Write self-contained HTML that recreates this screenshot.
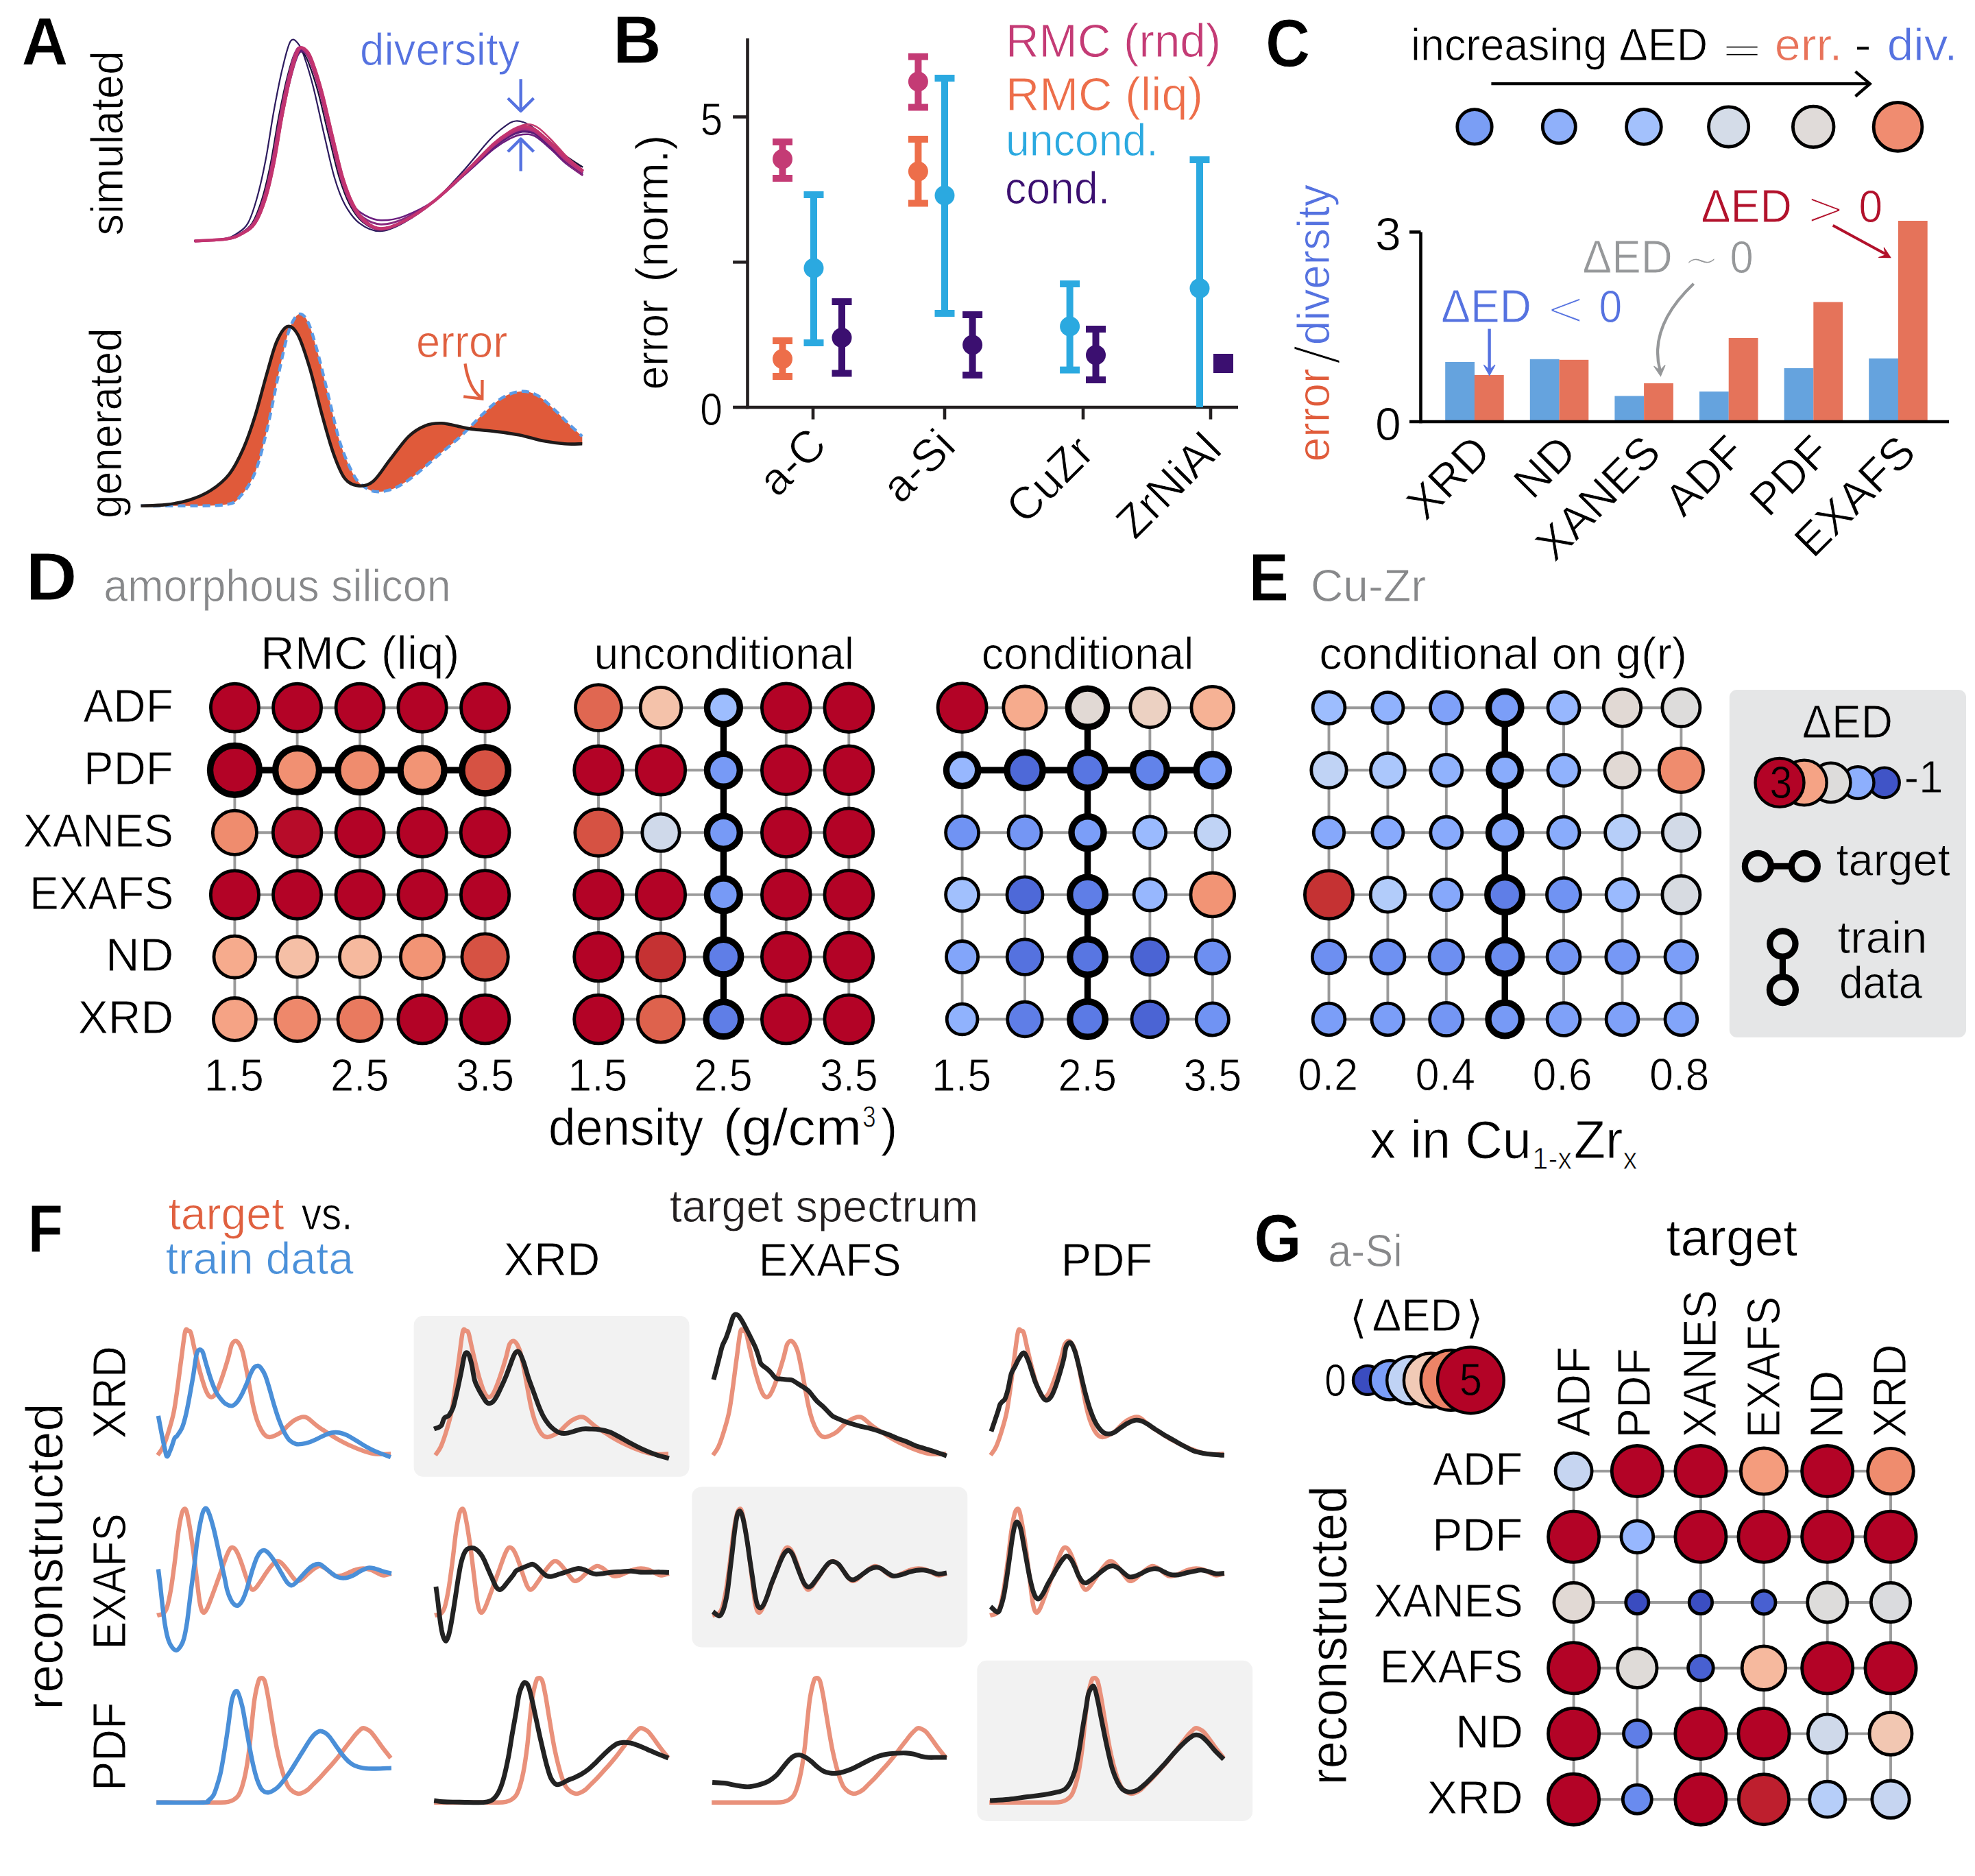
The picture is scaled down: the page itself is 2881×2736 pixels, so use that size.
<!DOCTYPE html>
<html><head><meta charset="utf-8"><title>figure</title>
<style>html,body{margin:0;padding:0;background:#fff;} svg{display:block;} text{stroke:#fff;stroke-width:0.9px;stroke-linejoin:round;} text.onbox{stroke:#e5e6e7;} text.onred{stroke:#b30326;}</style>
</head><body>
<svg width="2881" height="2736" viewBox="0 0 2881 2736" font-family="'Liberation Sans', 'DejaVu Sans', sans-serif">
<rect width="2881" height="2736" fill="#fff"/>
<text x="31.2" y="94.3" font-size="98" font-weight="bold" textLength="68.3" lengthAdjust="spacingAndGlyphs" >A</text>
<text transform="translate(178.5,343.5) rotate(-90)" font-size="66" textLength="269.6" lengthAdjust="spacingAndGlyphs" >simulated</text>
<text transform="translate(177.3,756.1) rotate(-90)" font-size="66" textLength="277.6" lengthAdjust="spacingAndGlyphs" >generated</text>
<path d="M283.6,351.4 C290.7,350.9 315.8,350.2 326.0,348.4 C336.3,346.6 339.2,344.6 345.1,340.8 C351.0,337.0 356.5,334.6 361.6,325.6 C366.6,316.6 371.1,302.2 375.4,286.7 C379.7,271.2 383.6,253.8 387.6,232.8 C391.7,211.7 395.6,182.5 399.7,160.5 C403.8,138.4 407.8,117.1 411.9,100.3 C415.9,83.6 419.9,65.7 424.0,59.9 C428.1,54.1 432.6,60.9 436.2,65.4 C439.8,70.0 441.8,76.4 445.3,87.0 C448.9,97.5 452.9,110.8 457.5,128.9 C462.1,147.0 467.6,174.1 472.7,195.7 C477.8,217.4 482.8,241.6 487.8,258.7 C492.9,275.8 496.9,287.1 503.0,298.2 C509.1,309.3 515.5,318.8 524.1,325.3 C532.7,331.8 543.7,337.3 554.5,337.2 C565.3,337.1 575.6,332.3 589.0,324.8 C602.4,317.3 619.9,305.1 634.6,292.2 C649.3,279.3 664.3,261.9 677.4,247.4 C690.5,232.9 703.6,215.4 713.3,205.0 C722.9,194.6 728.8,189.8 735.4,185.1 C741.9,180.3 746.3,176.9 752.4,176.5 C758.5,176.0 764.5,177.8 772.3,182.4 C780.0,186.9 790.5,196.5 798.8,203.6 C807.1,210.7 813.7,218.3 822.0,224.9 C830.3,231.5 844.0,240.1 848.4,243.1" stroke="#2d1b5e" stroke-width="2.2" fill="none" stroke-linejoin="round" />
<path d="M283.7,351.4 C291.3,350.9 318.3,350.2 329.4,348.4 C340.4,346.6 343.5,344.6 349.9,340.8 C356.3,337.0 362.3,334.1 367.7,325.6 C373.1,317.1 377.9,304.2 382.4,289.8 C386.9,275.3 390.6,259.0 394.6,239.1 C398.7,219.1 402.6,191.0 406.7,170.0 C410.8,149.0 414.8,128.8 418.9,113.1 C422.9,97.4 426.9,81.7 431.0,75.9 C435.1,70.1 439.6,74.6 443.2,78.2 C446.8,81.8 448.8,87.7 452.3,97.3 C455.9,106.9 459.9,119.1 464.5,136.0 C469.1,152.9 474.6,178.3 479.7,198.8 C484.8,219.2 489.8,242.1 494.8,258.7 C499.9,275.3 504.3,287.3 510.0,298.2 C515.7,309.1 521.6,317.7 529.1,323.9 C536.7,330.1 545.3,335.2 555.3,335.2 C565.2,335.1 575.8,330.8 589.0,323.6 C602.2,316.5 619.4,304.5 634.6,292.2 C649.8,279.9 665.9,263.5 680.1,249.9 C694.3,236.3 709.0,220.3 719.6,210.7 C730.2,201.2 736.8,197.0 743.9,192.8 C751.0,188.5 756.1,185.8 762.2,185.3 C768.3,184.8 773.3,185.8 780.4,189.7 C787.5,193.6 797.1,202.2 804.7,208.6 C812.3,214.9 818.4,222.0 826.0,227.9 C833.6,233.7 846.2,241.1 850.2,243.8" stroke="#1a1236" stroke-width="2.2" fill="none" stroke-linejoin="round" />
<path d="M283.7,351.4 C291.7,350.9 320.1,350.2 331.8,348.4 C343.4,346.6 346.7,344.6 353.4,340.8 C360.1,337.0 366.4,334.0 372.0,325.6 C377.7,317.2 382.8,304.4 387.4,290.1 C392.0,275.8 395.6,259.7 399.6,239.9 C403.7,220.0 407.6,192.0 411.7,171.2 C415.8,150.3 419.8,130.2 423.9,114.7 C427.9,99.1 431.9,83.7 436.0,77.9 C440.1,72.1 444.6,76.3 448.2,79.8 C451.8,83.2 453.8,89.1 457.3,98.6 C460.9,108.1 464.9,120.1 469.5,136.8 C474.1,153.6 479.6,178.8 484.7,199.1 C489.8,219.4 494.8,242.2 499.8,258.7 C504.9,275.2 509.5,289.0 515.0,298.2 C520.5,307.4 525.9,310.2 532.7,314.1 C539.5,317.9 546.4,321.0 555.8,321.3 C565.2,321.5 575.9,320.5 589.0,315.6 C602.1,310.7 619.4,302.6 634.6,292.1 C649.8,281.7 665.9,265.3 680.1,252.9 C694.3,240.5 709.0,226.1 719.6,217.7 C730.2,209.2 736.8,205.7 743.9,202.1 C751.0,198.5 756.1,196.6 762.2,196.1 C768.3,195.5 773.3,194.9 780.4,198.7 C787.5,202.5 797.1,211.9 804.7,218.6 C812.3,225.3 818.4,232.6 826.0,238.8 C833.6,245.0 846.2,252.9 850.2,255.8" stroke="#6a1d7e" stroke-width="2.6" fill="none" stroke-linejoin="round" />
<path d="M283.7,351.4 C291.6,350.9 319.4,350.2 330.8,348.4 C342.2,346.6 345.4,344.6 352.0,340.8 C358.6,337.0 364.7,334.1 370.3,325.6 C375.9,317.1 380.8,304.1 385.4,289.6 C389.9,275.1 393.6,258.7 397.6,238.7 C401.7,218.6 405.6,190.4 409.7,169.4 C413.8,148.3 417.8,128.0 421.9,112.3 C425.9,96.5 429.9,80.7 434.0,74.9 C438.1,69.1 442.6,73.8 446.2,77.4 C449.8,81.0 451.8,86.9 455.3,96.6 C458.9,106.3 462.9,118.5 467.5,135.5 C472.1,152.5 477.6,178.0 482.7,198.6 C487.8,219.1 492.8,242.1 497.8,258.7 C502.9,275.3 507.4,288.3 513.0,298.2 C518.6,308.1 524.2,313.4 531.3,318.3 C538.4,323.1 546.0,327.1 555.6,327.2 C565.2,327.4 575.8,324.9 589.0,319.1 C602.2,313.2 619.4,303.5 634.6,292.2 C649.8,280.9 665.9,264.3 680.1,251.2 C694.3,238.2 709.0,222.9 719.6,213.9 C730.2,204.9 736.8,201.0 743.9,197.0 C751.0,193.1 756.1,190.7 762.2,190.2 C768.3,189.6 773.3,189.6 780.4,193.8 C787.5,198.0 797.1,208.2 804.7,215.4 C812.3,222.6 818.4,230.4 826.0,237.1 C833.6,243.8 846.2,252.6 850.2,255.7" stroke="#8a2a7e" stroke-width="3.0" fill="none" stroke-linejoin="round" />
<path d="M283.7,351.4 C291.6,350.9 319.8,350.2 331.3,348.4 C342.8,346.6 346.0,344.6 352.7,340.8 C359.3,337.0 365.6,334.1 371.2,325.6 C376.8,317.1 381.8,304.3 386.4,289.9 C391.0,275.6 394.6,259.4 398.6,239.5 C402.7,219.6 406.6,191.5 410.7,170.6 C414.8,149.6 418.8,129.5 422.9,113.9 C426.9,98.3 430.9,82.7 435.0,76.9 C439.1,71.1 443.6,75.5 447.2,79.0 C450.8,82.5 452.8,88.4 456.3,97.9 C459.9,107.5 463.9,119.6 468.5,136.4 C473.1,153.2 478.6,178.6 483.7,198.9 C488.8,219.3 493.8,242.2 498.8,258.7 C503.9,275.2 508.5,287.6 514.0,298.2 C519.5,308.8 525.1,316.7 532.0,322.5 C539.0,328.3 546.2,333.2 555.7,333.2 C565.2,333.2 575.9,329.3 589.0,322.5 C602.1,315.7 619.4,304.0 634.6,292.2 C649.8,280.4 665.9,264.6 680.1,251.8 C694.3,238.9 709.0,224.0 719.6,215.2 C730.2,206.3 736.8,202.6 743.9,198.7 C751.0,194.9 756.1,192.7 762.2,192.1 C768.3,191.6 773.3,191.5 780.4,195.4 C787.5,199.3 797.1,208.8 804.7,215.6 C812.3,222.3 818.4,229.7 826.0,235.9 C833.6,242.2 846.2,250.2 850.2,253.0" stroke="#5b1c78" stroke-width="3.0" fill="none" stroke-linejoin="round" />
<path d="M283.7,351.4 C291.8,350.9 320.5,350.2 332.2,348.4 C344.0,346.6 347.3,344.6 354.1,340.8 C360.9,337.0 367.2,334.2 372.9,325.6 C378.6,317.0 383.8,303.7 388.4,289.0 C393.0,274.3 396.6,257.7 400.6,237.5 C404.7,217.3 408.6,188.9 412.7,167.6 C416.8,146.3 420.8,125.9 424.9,109.9 C428.9,94.0 432.9,77.7 437.0,71.9 C441.1,66.1 445.6,71.2 449.2,75.0 C452.8,78.8 454.8,84.8 458.3,94.7 C461.9,104.6 465.9,117.0 470.5,134.2 C475.1,151.4 480.6,177.2 485.7,198.0 C490.8,218.8 495.8,242.0 500.8,258.7 C505.9,275.4 510.6,287.6 516.0,298.2 C521.4,308.8 526.8,316.7 533.5,322.5 C540.1,328.3 546.7,333.2 555.9,333.2 C565.2,333.2 575.9,329.3 589.0,322.5 C602.1,315.7 619.1,304.5 634.6,292.2 C650.1,279.9 666.9,262.8 681.7,248.8 C696.5,234.8 712.2,218.1 723.4,208.2 C734.6,198.3 741.6,193.8 749.0,189.3 C756.5,184.9 762.0,181.8 768.1,181.4 C774.1,180.9 778.6,182.0 785.3,186.5 C792.0,190.9 801.1,201.0 808.3,208.3 C815.4,215.6 821.2,223.4 828.4,230.2 C835.6,237.0 847.5,245.9 851.3,249.1" stroke="#c43c6e" stroke-width="2.6" fill="none" stroke-linejoin="round" />
<path d="M283.7,351.4 C291.6,350.9 319.4,350.2 330.8,348.4 C342.2,346.6 345.4,344.6 352.0,340.8 C358.6,337.0 364.7,334.2 370.3,325.6 C375.9,317.0 380.8,303.7 385.4,289.0 C389.9,274.3 393.6,257.7 397.6,237.5 C401.7,217.3 405.6,188.9 409.7,167.6 C413.8,146.3 417.8,125.9 421.9,109.9 C425.9,94.0 429.9,77.7 434.0,71.9 C438.1,66.1 442.6,71.2 446.2,75.0 C449.8,78.8 451.8,84.8 455.3,94.7 C458.9,104.6 462.9,117.0 467.5,134.2 C472.1,151.4 477.6,177.2 482.7,198.0 C487.8,218.8 492.8,242.0 497.8,258.7 C502.9,275.4 507.4,287.4 513.0,298.2 C518.6,309.0 524.2,317.2 531.3,323.2 C538.4,329.2 546.0,334.2 555.6,334.2 C565.2,334.2 575.8,330.1 589.0,323.1 C602.2,316.1 619.4,304.3 634.6,292.2 C649.8,280.1 665.9,263.8 680.1,250.4 C694.3,237.1 709.0,221.3 719.6,212.0 C730.2,202.7 736.8,198.6 743.9,194.5 C751.0,190.3 756.1,187.8 762.2,187.2 C768.3,186.7 773.3,187.2 780.4,191.3 C787.5,195.5 797.1,205.2 804.7,212.2 C812.3,219.2 818.4,226.8 826.0,233.3 C833.6,239.7 846.2,248.2 850.2,251.1" stroke="#b5307a" stroke-width="4.5" fill="none" stroke-linejoin="round" />
<path d="M283.7,351.4 C291.7,350.9 320.1,350.2 331.8,348.4 C343.4,346.6 346.7,344.6 353.4,340.8 C360.1,337.0 366.4,334.2 372.0,325.6 C377.7,317.0 382.8,303.7 387.4,289.0 C392.0,274.3 395.6,257.7 399.6,237.5 C403.7,217.3 407.6,188.9 411.7,167.6 C415.8,146.3 419.8,125.9 423.9,109.9 C427.9,94.0 431.9,77.7 436.0,71.9 C440.1,66.1 444.6,71.2 448.2,75.0 C451.8,78.8 453.8,84.8 457.3,94.7 C460.9,104.6 464.9,117.0 469.5,134.2 C474.1,151.4 479.6,177.2 484.7,198.0 C489.8,218.8 494.8,242.0 499.8,258.7 C504.9,275.4 509.5,287.6 515.0,298.2 C520.5,308.8 525.9,316.7 532.7,322.5 C539.5,328.3 546.4,333.2 555.8,333.2 C565.2,333.2 575.9,329.3 589.0,322.5 C602.1,315.7 619.4,304.3 634.6,292.2 C649.8,280.1 665.9,263.3 680.1,249.6 C694.3,235.9 709.0,219.7 719.6,210.1 C730.2,200.5 736.8,196.2 743.9,191.9 C751.0,187.6 756.1,184.8 762.2,184.3 C768.3,183.8 773.3,184.7 780.4,188.9 C787.5,193.1 797.1,202.8 804.7,209.7 C812.3,216.7 818.4,224.3 826.0,230.7 C833.6,237.2 846.2,245.6 850.2,248.6" stroke="#c3346f" stroke-width="4.0" fill="none" stroke-linejoin="round" />
<text x="525.1" y="95.3" font-size="66" fill="#5572e0" textLength="233.3" lengthAdjust="spacingAndGlyphs" >diversity</text>
<path d="M759.7,115.3 L759.7,161" stroke="#5572e0" stroke-width="4.4" fill="none" stroke-linejoin="round" />
<path d="M740.9,143.3 L759.7,162 L778.5,143.3" stroke="#5572e0" stroke-width="4.4" fill="none" stroke-linejoin="round" />
<path d="M759.7,249.6 L759.7,203" stroke="#5572e0" stroke-width="4.4" fill="none" stroke-linejoin="round" />
<path d="M740.9,221.3 L759.7,202.5 L778.5,221.3" stroke="#5572e0" stroke-width="4.4" fill="none" stroke-linejoin="round" />
<path d="M205.5,737.8 C210.9,737.8 217.8,738.1 238.2,737.8 C258.6,737.5 308.8,738.7 327.7,736.1 C346.6,733.5 344.3,730.3 351.8,722.3 C359.3,714.3 366.2,704.0 372.5,687.9 C378.8,671.8 384.0,650.0 389.7,625.9 C395.4,601.8 401.7,566.8 406.9,543.3 C412.1,519.8 416.1,498.9 420.7,484.8 C425.3,470.7 429.9,461.8 434.5,458.9 C439.1,456.0 443.6,459.2 448.2,467.5 C452.8,475.8 456.8,490.5 462.0,508.9 C467.2,527.3 473.5,554.8 479.2,577.7 C484.9,600.7 490.1,627.1 496.4,646.6 C502.7,666.1 510.8,683.9 517.1,694.8 C523.4,705.7 528.6,708.3 534.3,712.0 C540.0,715.7 544.6,717.2 551.5,717.2 C558.4,717.2 567.0,715.7 575.6,712.0 C584.2,708.3 592.9,702.5 603.2,694.8 C613.5,687.0 626.1,675.2 637.6,665.5 C649.1,655.8 660.5,646.9 672.0,636.3 C683.5,625.7 696.1,611.3 706.4,601.8 C716.7,592.3 724.8,584.6 734.0,579.4 C743.2,574.2 752.9,571.1 761.5,570.8 C770.1,570.5 777.6,573.1 785.6,577.7 C793.6,582.3 802.2,591.5 809.7,598.4 C817.2,605.3 823.8,612.7 830.4,619.0 C837.0,625.3 846.1,633.4 849.3,636.3 L849.3,647.3 L849.3,647.3 C845.0,647.3 833.0,648.0 823.5,647.3 C814.0,646.6 803.4,645.2 792.5,643.1 C781.6,641.0 769.6,636.8 758.1,634.5 C746.6,632.2 735.2,630.8 723.7,629.4 C712.2,628.0 697.8,627.0 689.2,625.9 C680.6,624.8 679.5,623.9 672.0,622.5 C664.5,621.1 653.1,617.6 644.5,617.3 C635.9,617.0 628.4,617.6 620.4,620.8 C612.4,624.0 604.9,628.0 596.3,636.3 C587.7,644.6 577.3,659.8 568.7,670.7 C560.1,681.6 552.1,695.4 544.6,701.7 C537.1,708.0 530.9,709.2 524.0,708.6 C517.1,708.0 509.6,706.2 503.3,698.2 C497.0,690.2 491.8,676.5 486.1,660.4 C480.4,644.3 474.6,622.5 468.9,601.8 C463.2,581.1 457.4,555.3 451.7,536.4 C446.0,517.5 439.9,498.2 434.5,488.2 C429.1,478.2 424.2,474.5 419.0,476.2 C413.8,477.9 408.4,487.3 403.5,498.5 C398.6,509.7 394.9,525.5 389.7,543.3 C384.5,561.1 378.2,586.9 372.5,605.3 C366.8,623.7 361.6,639.2 355.3,653.5 C349.0,667.8 342.6,681.0 334.6,691.3 C326.6,701.6 316.9,709.1 307.1,715.4 C297.4,721.7 287.0,725.8 276.1,729.2 C265.2,732.7 253.4,734.7 241.6,736.1 C229.8,737.5 211.5,737.5 205.5,737.8 Z" fill="#e05a3a" stroke="none"/>
<path d="M205.5,737.8 C210.9,737.8 217.8,738.1 238.2,737.8 C258.6,737.5 308.8,738.7 327.7,736.1 C346.6,733.5 344.3,730.3 351.8,722.3 C359.3,714.3 366.2,704.0 372.5,687.9 C378.8,671.8 384.0,650.0 389.7,625.9 C395.4,601.8 401.7,566.8 406.9,543.3 C412.1,519.8 416.1,498.9 420.7,484.8 C425.3,470.7 429.9,461.8 434.5,458.9 C439.1,456.0 443.6,459.2 448.2,467.5 C452.8,475.8 456.8,490.5 462.0,508.9 C467.2,527.3 473.5,554.8 479.2,577.7 C484.9,600.7 490.1,627.1 496.4,646.6 C502.7,666.1 510.8,683.9 517.1,694.8 C523.4,705.7 528.6,708.3 534.3,712.0 C540.0,715.7 544.6,717.2 551.5,717.2 C558.4,717.2 567.0,715.7 575.6,712.0 C584.2,708.3 592.9,702.5 603.2,694.8 C613.5,687.0 626.1,675.2 637.6,665.5 C649.1,655.8 660.5,646.9 672.0,636.3 C683.5,625.7 696.1,611.3 706.4,601.8 C716.7,592.3 724.8,584.6 734.0,579.4 C743.2,574.2 752.9,571.1 761.5,570.8 C770.1,570.5 777.6,573.1 785.6,577.7 C793.6,582.3 802.2,591.5 809.7,598.4 C817.2,605.3 823.8,612.7 830.4,619.0 C837.0,625.3 846.1,633.4 849.3,636.3" stroke="#5b9be6" stroke-width="4.4" fill="none" stroke-linejoin="round" stroke-dasharray="11,7"/>
<path d="M205.5,737.8 C211.5,737.5 229.8,737.5 241.6,736.1 C253.4,734.7 265.2,732.7 276.1,729.2 C287.0,725.8 297.4,721.7 307.1,715.4 C316.9,709.1 326.6,701.6 334.6,691.3 C342.6,681.0 349.0,667.8 355.3,653.5 C361.6,639.2 366.8,623.7 372.5,605.3 C378.2,586.9 384.5,561.1 389.7,543.3 C394.9,525.5 398.6,509.7 403.5,498.5 C408.4,487.3 413.8,477.9 419.0,476.2 C424.2,474.5 429.1,478.2 434.5,488.2 C439.9,498.2 446.0,517.5 451.7,536.4 C457.4,555.3 463.2,581.1 468.9,601.8 C474.6,622.5 480.4,644.3 486.1,660.4 C491.8,676.5 497.0,690.2 503.3,698.2 C509.6,706.2 517.1,708.0 524.0,708.6 C530.9,709.2 537.1,708.0 544.6,701.7 C552.1,695.4 560.1,681.6 568.7,670.7 C577.3,659.8 587.7,644.6 596.3,636.3 C604.9,628.0 612.4,624.0 620.4,620.8 C628.4,617.6 635.9,617.0 644.5,617.3 C653.1,617.6 664.5,621.1 672.0,622.5 C679.5,623.9 680.6,624.8 689.2,625.9 C697.8,627.0 712.2,628.0 723.7,629.4 C735.2,630.8 746.6,632.2 758.1,634.5 C769.6,636.8 781.6,641.0 792.5,643.1 C803.4,645.2 814.0,646.6 823.5,647.3 C833.0,648.0 845.0,647.3 849.3,647.3" stroke="#1f1a1a" stroke-width="4.6" fill="none" stroke-linejoin="round" />
<text x="606.9" y="520.9" font-size="66" fill="#e0603f" textLength="133.4" lengthAdjust="spacingAndGlyphs" >error</text>
<path d="M678.5,530.4 Q683.5,566 702.5,580.5" stroke="#e0603f" stroke-width="4.3" fill="none" stroke-linejoin="round" />
<path d="M676.2,578.4 L703.3,581.6 L703.5,554.1" stroke="#e0603f" stroke-width="4.3" fill="none" stroke-linejoin="miter" />
<text x="894.0" y="92.0" font-size="98" font-weight="bold" textLength="70.8" lengthAdjust="spacingAndGlyphs" >B</text>
<line x1="1090.5" y1="56.0" x2="1090.5" y2="596.3" stroke="#231f20" stroke-width="4.6" stroke-linecap="butt" />
<line x1="1088.2" y1="594.0" x2="1806.0" y2="594.0" stroke="#231f20" stroke-width="4.6" stroke-linecap="butt" />
<line x1="1069.1" y1="170.5" x2="1090.5" y2="170.5" stroke="#231f20" stroke-width="4.6" stroke-linecap="butt" />
<line x1="1069.1" y1="382.3" x2="1090.5" y2="382.3" stroke="#231f20" stroke-width="4.6" stroke-linecap="butt" />
<line x1="1069.1" y1="594.0" x2="1090.5" y2="594.0" stroke="#231f20" stroke-width="4.6" stroke-linecap="butt" />
<line x1="1186.0" y1="594.0" x2="1186.0" y2="611.6" stroke="#231f20" stroke-width="4.6" stroke-linecap="butt" />
<line x1="1378.0" y1="594.0" x2="1378.0" y2="611.6" stroke="#231f20" stroke-width="4.6" stroke-linecap="butt" />
<line x1="1580.0" y1="594.0" x2="1580.0" y2="611.6" stroke="#231f20" stroke-width="4.6" stroke-linecap="butt" />
<line x1="1766.0" y1="594.0" x2="1766.0" y2="611.6" stroke="#231f20" stroke-width="4.6" stroke-linecap="butt" />
<text x="1021.7" y="196.5" font-size="66" textLength="32.3" lengthAdjust="spacingAndGlyphs" >5</text>
<text x="1021.2" y="620.0" font-size="66" textLength="32.6" lengthAdjust="spacingAndGlyphs" >0</text>
<text transform="translate(974.3,568.5) rotate(-90)" font-size="66" textLength="131.5" lengthAdjust="spacingAndGlyphs" >error</text>
<text transform="translate(974.3,411.4) rotate(-90)" font-size="66" textLength="214.8" lengthAdjust="spacingAndGlyphs" >(norm.)</text>
<line x1="1141.5" y1="207.0" x2="1141.5" y2="260.0" stroke="#c43b75" stroke-width="10" stroke-linecap="butt" />
<line x1="1127.0" y1="207.0" x2="1156.0" y2="207.0" stroke="#c43b75" stroke-width="10" stroke-linecap="butt" />
<line x1="1127.0" y1="260.0" x2="1156.0" y2="260.0" stroke="#c43b75" stroke-width="10" stroke-linecap="butt" />
<circle cx="1141.5" cy="232.0" r="14.5" fill="#c43b75"/>
<line x1="1141.5" y1="497.0" x2="1141.5" y2="549.0" stroke="#ed6e4a" stroke-width="10" stroke-linecap="butt" />
<line x1="1127.0" y1="497.0" x2="1156.0" y2="497.0" stroke="#ed6e4a" stroke-width="10" stroke-linecap="butt" />
<line x1="1127.0" y1="549.0" x2="1156.0" y2="549.0" stroke="#ed6e4a" stroke-width="10" stroke-linecap="butt" />
<circle cx="1141.5" cy="523.6" r="14.5" fill="#ed6e4a"/>
<line x1="1187.0" y1="284.0" x2="1187.0" y2="500.0" stroke="#2ba9e0" stroke-width="10" stroke-linecap="butt" />
<line x1="1172.5" y1="284.0" x2="1201.5" y2="284.0" stroke="#2ba9e0" stroke-width="10" stroke-linecap="butt" />
<line x1="1172.5" y1="500.0" x2="1201.5" y2="500.0" stroke="#2ba9e0" stroke-width="10" stroke-linecap="butt" />
<circle cx="1187.0" cy="391.0" r="14.5" fill="#2ba9e0"/>
<line x1="1228.0" y1="440.0" x2="1228.0" y2="544.5" stroke="#3b0f70" stroke-width="10" stroke-linecap="butt" />
<line x1="1213.5" y1="440.0" x2="1242.5" y2="440.0" stroke="#3b0f70" stroke-width="10" stroke-linecap="butt" />
<line x1="1213.5" y1="544.5" x2="1242.5" y2="544.5" stroke="#3b0f70" stroke-width="10" stroke-linecap="butt" />
<circle cx="1228.0" cy="492.5" r="14.5" fill="#3b0f70"/>
<line x1="1339.4" y1="82.6" x2="1339.4" y2="156.5" stroke="#c43b75" stroke-width="10" stroke-linecap="butt" />
<line x1="1324.9" y1="82.6" x2="1353.9" y2="82.6" stroke="#c43b75" stroke-width="10" stroke-linecap="butt" />
<line x1="1324.9" y1="156.5" x2="1353.9" y2="156.5" stroke="#c43b75" stroke-width="10" stroke-linecap="butt" />
<circle cx="1339.4" cy="119.0" r="14.5" fill="#c43b75"/>
<line x1="1339.4" y1="203.0" x2="1339.4" y2="296.5" stroke="#ed6e4a" stroke-width="10" stroke-linecap="butt" />
<line x1="1324.9" y1="203.0" x2="1353.9" y2="203.0" stroke="#ed6e4a" stroke-width="10" stroke-linecap="butt" />
<line x1="1324.9" y1="296.5" x2="1353.9" y2="296.5" stroke="#ed6e4a" stroke-width="10" stroke-linecap="butt" />
<circle cx="1339.4" cy="250.0" r="14.5" fill="#ed6e4a"/>
<line x1="1378.0" y1="114.0" x2="1378.0" y2="457.0" stroke="#2ba9e0" stroke-width="10" stroke-linecap="butt" />
<line x1="1363.5" y1="114.0" x2="1392.5" y2="114.0" stroke="#2ba9e0" stroke-width="10" stroke-linecap="butt" />
<line x1="1363.5" y1="457.0" x2="1392.5" y2="457.0" stroke="#2ba9e0" stroke-width="10" stroke-linecap="butt" />
<circle cx="1378.0" cy="285.0" r="14.5" fill="#2ba9e0"/>
<line x1="1418.6" y1="459.0" x2="1418.6" y2="547.0" stroke="#3b0f70" stroke-width="10" stroke-linecap="butt" />
<line x1="1404.1" y1="459.0" x2="1433.1" y2="459.0" stroke="#3b0f70" stroke-width="10" stroke-linecap="butt" />
<line x1="1404.1" y1="547.0" x2="1433.1" y2="547.0" stroke="#3b0f70" stroke-width="10" stroke-linecap="butt" />
<circle cx="1418.6" cy="503.0" r="14.5" fill="#3b0f70"/>
<line x1="1560.6" y1="414.0" x2="1560.6" y2="539.6" stroke="#2ba9e0" stroke-width="10" stroke-linecap="butt" />
<line x1="1546.1" y1="414.0" x2="1575.1" y2="414.0" stroke="#2ba9e0" stroke-width="10" stroke-linecap="butt" />
<line x1="1546.1" y1="539.6" x2="1575.1" y2="539.6" stroke="#2ba9e0" stroke-width="10" stroke-linecap="butt" />
<circle cx="1560.6" cy="476.0" r="14.5" fill="#2ba9e0"/>
<line x1="1598.5" y1="480.0" x2="1598.5" y2="554.0" stroke="#3b0f70" stroke-width="10" stroke-linecap="butt" />
<line x1="1584.0" y1="480.0" x2="1613.0" y2="480.0" stroke="#3b0f70" stroke-width="10" stroke-linecap="butt" />
<line x1="1584.0" y1="554.0" x2="1613.0" y2="554.0" stroke="#3b0f70" stroke-width="10" stroke-linecap="butt" />
<circle cx="1598.5" cy="517.7" r="14.5" fill="#3b0f70"/>
<line x1="1750.0" y1="233.0" x2="1750.0" y2="594.0" stroke="#2ba9e0" stroke-width="10" stroke-linecap="butt" />
<line x1="1735.5" y1="233.0" x2="1764.5" y2="233.0" stroke="#2ba9e0" stroke-width="10" stroke-linecap="butt" />
<circle cx="1750" cy="420.5" r="14.5" fill="#2ba9e0"/>
<rect x="1770.0" y="516.0" width="29.0" height="28.0" fill="#3b0f70" rx="0" />
<text x="1467.0" y="83.4" font-size="68" fill="#c43b75" textLength="314.2" lengthAdjust="spacingAndGlyphs" >RMC (rnd)</text>
<text x="1466.9" y="161.2" font-size="68" fill="#ed6e4a" textLength="288.2" lengthAdjust="spacingAndGlyphs" >RMC (liq)</text>
<text x="1467.1" y="227.1" font-size="66" fill="#2ba9e0" textLength="222.5" lengthAdjust="spacingAndGlyphs" >uncond.</text>
<text x="1466.0" y="296.9" font-size="66" fill="#3b0f70" textLength="153.1" lengthAdjust="spacingAndGlyphs" >cond.</text>
<text transform="translate(1209.0,652.0) rotate(-45)" font-size="66" text-anchor="end" >a-C</text>
<text transform="translate(1397.0,654.0) rotate(-45)" font-size="66" text-anchor="end" >a-Si</text>
<text transform="translate(1599.0,663.0) rotate(-45)" font-size="66" text-anchor="end" >CuZr</text>
<text transform="translate(1785.0,659.0) rotate(-45)" font-size="66" text-anchor="end" >ZrNiAl</text>
<text x="1845.9" y="97.0" font-size="98" font-weight="bold" textLength="65.2" lengthAdjust="spacingAndGlyphs" >C</text>
<text x="2058.0" y="88.1" font-size="66" textLength="433.0" lengthAdjust="spacingAndGlyphs" >increasing ΔED</text>
<text x="2510.2" y="96.0" font-size="70" font-weight="200" font-family="'DejaVu Sans', sans-serif" textLength="61.7" lengthAdjust="spacingAndGlyphs" >=</text>
<text x="2588.8" y="88.1" font-size="66" fill="#e8735a" textLength="98.7" lengthAdjust="spacingAndGlyphs" >err.</text>
<text x="2705.3" y="88.1" font-size="66" textLength="24.5" lengthAdjust="spacingAndGlyphs" >-</text>
<text x="2752.7" y="88.1" font-size="66" fill="#5572e0" textLength="102.9" lengthAdjust="spacingAndGlyphs" >div.</text>
<line x1="2175.4" y1="122.2" x2="2726.0" y2="122.2" stroke="#000" stroke-width="4.3" stroke-linecap="butt" />
<path d="M2706.5,104.3 L2727.8,122.2 L2706.5,140.5" stroke="#000" stroke-width="4.3" fill="none" stroke-linejoin="miter" />
<circle cx="2151.0" cy="184.9" r="25.2" fill="#7a9ef5" stroke="#000" stroke-width="4.8"/>
<circle cx="2274.3" cy="184.9" r="24.0" fill="#8fb0fa" stroke="#000" stroke-width="4.8"/>
<circle cx="2397.9" cy="184.9" r="25.4" fill="#a3c1fc" stroke="#000" stroke-width="4.8"/>
<circle cx="2521.6" cy="184.9" r="29.1" fill="#d4dce8" stroke="#000" stroke-width="4.8"/>
<circle cx="2645.2" cy="184.9" r="29.8" fill="#e0dbd9" stroke="#000" stroke-width="4.8"/>
<circle cx="2768.5" cy="184.9" r="35.4" fill="#f08c70" stroke="#000" stroke-width="4.8"/>
<rect x="2108.2" y="528.0" width="42.8" height="87.0" fill="#65a3de" rx="0" />
<rect x="2150.9" y="547.0" width="42.8" height="68.0" fill="#e5735a" rx="0" />
<rect x="2231.8" y="523.8" width="42.8" height="91.2" fill="#65a3de" rx="0" />
<rect x="2274.5" y="524.8" width="42.8" height="90.2" fill="#e5735a" rx="0" />
<rect x="2355.4" y="577.5" width="42.8" height="37.5" fill="#65a3de" rx="0" />
<rect x="2398.1" y="559.0" width="42.8" height="56.0" fill="#e5735a" rx="0" />
<rect x="2479.0" y="571.0" width="42.8" height="44.0" fill="#65a3de" rx="0" />
<rect x="2521.7" y="493.0" width="42.8" height="122.0" fill="#e5735a" rx="0" />
<rect x="2602.6" y="537.0" width="42.8" height="78.0" fill="#65a3de" rx="0" />
<rect x="2645.3" y="440.5" width="42.8" height="174.5" fill="#e5735a" rx="0" />
<rect x="2726.2" y="522.7" width="42.8" height="92.3" fill="#65a3de" rx="0" />
<rect x="2768.9" y="322.0" width="42.8" height="293.0" fill="#e5735a" rx="0" />
<line x1="2072.5" y1="338.4" x2="2072.5" y2="617.3" stroke="#000" stroke-width="4.6" stroke-linecap="butt" />
<line x1="2056.0" y1="615.0" x2="2843.0" y2="615.0" stroke="#000" stroke-width="4.6" stroke-linecap="butt" />
<line x1="2056.0" y1="338.4" x2="2072.5" y2="338.4" stroke="#000" stroke-width="4.6" stroke-linecap="butt" />
<text x="2025.0" y="365.0" font-size="68" text-anchor="middle" >3</text>
<text x="2025.0" y="642.0" font-size="68" text-anchor="middle" >0</text>
<text transform="translate(1939.3,673.4) rotate(-90)" font-size="66" fill="#e05b3a" textLength="135.7" lengthAdjust="spacingAndGlyphs" >error</text>
<text transform="translate(1947.0,531.0) rotate(-90)" font-size="80" font-weight="200" font-family="'DejaVu Sans', sans-serif" textLength="27.3" lengthAdjust="spacingAndGlyphs" >/</text>
<text transform="translate(1939.3,503.3) rotate(-90)" font-size="66" fill="#5572e0" textLength="234.1" lengthAdjust="spacingAndGlyphs" >diversity</text>
<text x="2102.3" y="469.5" font-size="68" fill="#5572e0" textLength="131.5" lengthAdjust="spacingAndGlyphs" >ΔED</text>
<text x="2256.0" y="474.0" font-size="70" fill="#5572e0" font-weight="200" font-family="'DejaVu Sans', sans-serif" textLength="55.5" lengthAdjust="spacingAndGlyphs" >&lt;</text>
<text x="2332.5" y="469.5" font-size="66" fill="#5572e0" textLength="33.7" lengthAdjust="spacingAndGlyphs" >0</text>
<path d="M2172.6,479.6 L2172.6,540" stroke="#5572e0" stroke-width="4.4" fill="none" stroke-linejoin="round" />
<path d="M2172.7,547.5 L2164.4,532.1 L2172.7,539.5 L2181.0,532.1 Z" fill="#5572e0" stroke="#5572e0" stroke-width="1.2" stroke-linejoin="miter"/>
<text x="2308.6" y="398.2" font-size="68" fill="#96989a" textLength="131.1" lengthAdjust="spacingAndGlyphs" >ΔED</text>
<text x="2456.6" y="401.0" font-size="66" fill="#96989a" font-weight="200" font-family="'DejaVu Sans', sans-serif" textLength="50.9" lengthAdjust="spacingAndGlyphs" >~</text>
<text x="2523.4" y="398.2" font-size="66" fill="#96989a" textLength="34.2" lengthAdjust="spacingAndGlyphs" >0</text>
<path d="M2470.6,413.7 Q2404.5,476.3 2421.5,540" stroke="#96989a" stroke-width="4.3" fill="none" stroke-linejoin="round" />
<path d="M2422.4,548.5 L2412.6,534.0 L2421.6,540.5 L2429.1,532.4 Z" fill="#96989a" stroke="#96989a" stroke-width="1.2" stroke-linejoin="miter"/>
<text x="2481.6" y="323.6" font-size="68" fill="#b2112b" textLength="132.2" lengthAdjust="spacingAndGlyphs" >ΔED</text>
<text x="2635.2" y="328.0" font-size="70" fill="#b2112b" font-weight="200" font-family="'DejaVu Sans', sans-serif" textLength="55.5" lengthAdjust="spacingAndGlyphs" >&gt;</text>
<text x="2711.6" y="323.6" font-size="66" fill="#b2112b" textLength="34.6" lengthAdjust="spacingAndGlyphs" >0</text>
<path d="M2673.7,328.8 L2750.5,370.5" stroke="#b2112b" stroke-width="3.9" fill="none" stroke-linejoin="round" />
<path d="M2757.8,375.6 L2740.3,375.5 L2750.8,371.8 L2748.2,361.0 Z" fill="#b2112b" stroke="#b2112b" stroke-width="1.2" stroke-linejoin="miter"/>
<text transform="translate(2178.0,663.0) rotate(-45)" font-size="66" text-anchor="end" >XRD</text>
<text transform="translate(2303.0,663.0) rotate(-45)" font-size="66" text-anchor="end" >ND</text>
<text transform="translate(2426.0,663.0) rotate(-45)" font-size="66" text-anchor="end" >XANES</text>
<text transform="translate(2549.0,663.0) rotate(-45)" font-size="66" text-anchor="end" >ADF</text>
<text transform="translate(2673.0,663.0) rotate(-45)" font-size="66" text-anchor="end" >PDF</text>
<text transform="translate(2798.0,663.0) rotate(-45)" font-size="66" text-anchor="end" >EXAFS</text>
<text x="37.5" y="874.6" font-size="98" font-weight="bold" textLength="74.9" lengthAdjust="spacingAndGlyphs" >D</text>
<text x="151.3" y="877.3" font-size="66" fill="#87888a" textLength="506.3" lengthAdjust="spacingAndGlyphs" >amorphous silicon</text>
<text x="121.6" y="1053.0" font-size="68" textLength="131.1" lengthAdjust="spacingAndGlyphs" >ADF</text>
<text x="122.1" y="1144.1" font-size="68" textLength="130.6" lengthAdjust="spacingAndGlyphs" >PDF</text>
<text x="33.8" y="1235.0" font-size="68" textLength="219.2" lengthAdjust="spacingAndGlyphs" >XANES</text>
<text x="42.9" y="1325.7" font-size="68" textLength="210.4" lengthAdjust="spacingAndGlyphs" >EXAFS</text>
<text x="154.0" y="1416.4" font-size="68" textLength="99.5" lengthAdjust="spacingAndGlyphs" >ND</text>
<text x="113.7" y="1507.3" font-size="68" textLength="139.4" lengthAdjust="spacingAndGlyphs" >XRD</text>
<text x="380.0" y="976.4" font-size="68" textLength="290.3" lengthAdjust="spacingAndGlyphs" >RMC (liq)</text>
<text x="866.5" y="975.9" font-size="66" textLength="379.6" lengthAdjust="spacingAndGlyphs" >unconditional</text>
<text x="1431.7" y="975.9" font-size="66" textLength="309.7" lengthAdjust="spacingAndGlyphs" >conditional</text>
<line x1="342.4" y1="1032.2" x2="707.6" y2="1032.2" stroke="#9a9a9a" stroke-width="3.9" stroke-linecap="butt" />
<line x1="342.4" y1="1123.3" x2="707.6" y2="1123.3" stroke="#9a9a9a" stroke-width="3.9" stroke-linecap="butt" />
<line x1="342.4" y1="1214.2" x2="707.6" y2="1214.2" stroke="#9a9a9a" stroke-width="3.9" stroke-linecap="butt" />
<line x1="342.4" y1="1304.9" x2="707.6" y2="1304.9" stroke="#9a9a9a" stroke-width="3.9" stroke-linecap="butt" />
<line x1="342.4" y1="1395.6" x2="707.6" y2="1395.6" stroke="#9a9a9a" stroke-width="3.9" stroke-linecap="butt" />
<line x1="342.4" y1="1486.5" x2="707.6" y2="1486.5" stroke="#9a9a9a" stroke-width="3.9" stroke-linecap="butt" />
<line x1="342.4" y1="1032.2" x2="342.4" y2="1486.5" stroke="#9a9a9a" stroke-width="3.9" stroke-linecap="butt" />
<line x1="433.6" y1="1032.2" x2="433.6" y2="1486.5" stroke="#9a9a9a" stroke-width="3.9" stroke-linecap="butt" />
<line x1="525.1" y1="1032.2" x2="525.1" y2="1486.5" stroke="#9a9a9a" stroke-width="3.9" stroke-linecap="butt" />
<line x1="616.1" y1="1032.2" x2="616.1" y2="1486.5" stroke="#9a9a9a" stroke-width="3.9" stroke-linecap="butt" />
<line x1="707.6" y1="1032.2" x2="707.6" y2="1486.5" stroke="#9a9a9a" stroke-width="3.9" stroke-linecap="butt" />
<line x1="342.4" y1="1123.3" x2="707.6" y2="1123.3" stroke="#000" stroke-width="9.4" stroke-linecap="butt" />
<circle cx="342.4" cy="1032.2" r="35.0" fill="#b30326" stroke="#000" stroke-width="4.8"/>
<circle cx="433.6" cy="1032.2" r="35.0" fill="#b30326" stroke="#000" stroke-width="4.8"/>
<circle cx="525.1" cy="1032.2" r="35.0" fill="#b30326" stroke="#000" stroke-width="4.8"/>
<circle cx="616.1" cy="1032.2" r="35.2" fill="#b30326" stroke="#000" stroke-width="4.8"/>
<circle cx="707.6" cy="1032.2" r="35.0" fill="#b30326" stroke="#000" stroke-width="4.8"/>
<circle cx="342.4" cy="1123.3" r="35.9" fill="#b30326" stroke="#000" stroke-width="9.4"/>
<circle cx="433.6" cy="1123.3" r="31.9" fill="#f19072" stroke="#000" stroke-width="9.4"/>
<circle cx="525.1" cy="1123.3" r="32.3" fill="#ef8c6e" stroke="#000" stroke-width="9.4"/>
<circle cx="616.1" cy="1123.3" r="32.0" fill="#f29475" stroke="#000" stroke-width="9.4"/>
<circle cx="707.6" cy="1123.3" r="33.7" fill="#d65243" stroke="#000" stroke-width="9.4"/>
<circle cx="342.4" cy="1214.2" r="32.1" fill="#ef8c6e" stroke="#000" stroke-width="4.8"/>
<circle cx="433.6" cy="1214.2" r="35.3" fill="#b70c29" stroke="#000" stroke-width="4.8"/>
<circle cx="525.1" cy="1214.2" r="35.1" fill="#b30326" stroke="#000" stroke-width="4.8"/>
<circle cx="616.1" cy="1214.2" r="35.3" fill="#b30326" stroke="#000" stroke-width="4.8"/>
<circle cx="707.6" cy="1214.2" r="35.4" fill="#b30326" stroke="#000" stroke-width="4.8"/>
<circle cx="342.4" cy="1304.9" r="35.1" fill="#b30326" stroke="#000" stroke-width="4.8"/>
<circle cx="433.6" cy="1304.9" r="35.1" fill="#b30326" stroke="#000" stroke-width="4.8"/>
<circle cx="525.1" cy="1304.9" r="35.1" fill="#b30326" stroke="#000" stroke-width="4.8"/>
<circle cx="616.1" cy="1304.9" r="35.2" fill="#b30326" stroke="#000" stroke-width="4.8"/>
<circle cx="707.6" cy="1304.9" r="35.2" fill="#b30326" stroke="#000" stroke-width="4.8"/>
<circle cx="342.4" cy="1395.6" r="30.4" fill="#f6ab8d" stroke="#000" stroke-width="4.8"/>
<circle cx="433.6" cy="1395.6" r="29.5" fill="#f5bfa6" stroke="#000" stroke-width="4.8"/>
<circle cx="525.1" cy="1395.6" r="29.7" fill="#f6b99e" stroke="#000" stroke-width="4.8"/>
<circle cx="616.1" cy="1395.6" r="31.7" fill="#f29475" stroke="#000" stroke-width="4.8"/>
<circle cx="707.6" cy="1395.6" r="33.7" fill="#d65243" stroke="#000" stroke-width="4.8"/>
<circle cx="342.4" cy="1486.5" r="31.0" fill="#f5a385" stroke="#000" stroke-width="4.8"/>
<circle cx="433.6" cy="1486.5" r="32.1" fill="#ee886b" stroke="#000" stroke-width="4.8"/>
<circle cx="525.1" cy="1486.5" r="32.1" fill="#e97a5f" stroke="#000" stroke-width="4.8"/>
<circle cx="616.1" cy="1486.5" r="35.3" fill="#b30326" stroke="#000" stroke-width="4.8"/>
<circle cx="707.6" cy="1486.5" r="35.3" fill="#b30326" stroke="#000" stroke-width="4.8"/>
<line x1="873.0" y1="1032.2" x2="1238.3" y2="1032.2" stroke="#9a9a9a" stroke-width="3.9" stroke-linecap="butt" />
<line x1="873.0" y1="1123.3" x2="1238.3" y2="1123.3" stroke="#9a9a9a" stroke-width="3.9" stroke-linecap="butt" />
<line x1="873.0" y1="1214.2" x2="1238.3" y2="1214.2" stroke="#9a9a9a" stroke-width="3.9" stroke-linecap="butt" />
<line x1="873.0" y1="1304.9" x2="1238.3" y2="1304.9" stroke="#9a9a9a" stroke-width="3.9" stroke-linecap="butt" />
<line x1="873.0" y1="1395.6" x2="1238.3" y2="1395.6" stroke="#9a9a9a" stroke-width="3.9" stroke-linecap="butt" />
<line x1="873.0" y1="1486.5" x2="1238.3" y2="1486.5" stroke="#9a9a9a" stroke-width="3.9" stroke-linecap="butt" />
<line x1="873.0" y1="1032.2" x2="873.0" y2="1486.5" stroke="#9a9a9a" stroke-width="3.9" stroke-linecap="butt" />
<line x1="964.0" y1="1032.2" x2="964.0" y2="1486.5" stroke="#9a9a9a" stroke-width="3.9" stroke-linecap="butt" />
<line x1="1055.4" y1="1032.2" x2="1055.4" y2="1486.5" stroke="#9a9a9a" stroke-width="3.9" stroke-linecap="butt" />
<line x1="1146.8" y1="1032.2" x2="1146.8" y2="1486.5" stroke="#9a9a9a" stroke-width="3.9" stroke-linecap="butt" />
<line x1="1238.3" y1="1032.2" x2="1238.3" y2="1486.5" stroke="#9a9a9a" stroke-width="3.9" stroke-linecap="butt" />
<line x1="1055.4" y1="1032.2" x2="1055.4" y2="1486.5" stroke="#000" stroke-width="9.4" stroke-linecap="butt" />
<circle cx="873.0" cy="1032.2" r="33.5" fill="#e06751" stroke="#000" stroke-width="4.8"/>
<circle cx="964.0" cy="1032.2" r="29.8" fill="#f4c2aa" stroke="#000" stroke-width="4.8"/>
<circle cx="1055.4" cy="1032.2" r="23.9" fill="#9dbdfe" stroke="#000" stroke-width="9.4"/>
<circle cx="1146.8" cy="1032.2" r="35.4" fill="#b30326" stroke="#000" stroke-width="4.8"/>
<circle cx="1238.3" cy="1032.2" r="35.4" fill="#b30326" stroke="#000" stroke-width="4.8"/>
<circle cx="873.0" cy="1123.3" r="35.3" fill="#b30326" stroke="#000" stroke-width="4.8"/>
<circle cx="964.0" cy="1123.3" r="35.7" fill="#b30326" stroke="#000" stroke-width="4.8"/>
<circle cx="1055.4" cy="1123.3" r="23.9" fill="#779af6" stroke="#000" stroke-width="9.4"/>
<circle cx="1146.8" cy="1123.3" r="35.4" fill="#b30326" stroke="#000" stroke-width="4.8"/>
<circle cx="1238.3" cy="1123.3" r="35.4" fill="#b30326" stroke="#000" stroke-width="4.8"/>
<circle cx="873.0" cy="1214.2" r="34.2" fill="#d65243" stroke="#000" stroke-width="4.8"/>
<circle cx="964.0" cy="1214.2" r="27.2" fill="#cfd9ea" stroke="#000" stroke-width="4.8"/>
<circle cx="1055.4" cy="1214.2" r="23.9" fill="#779af6" stroke="#000" stroke-width="9.4"/>
<circle cx="1146.8" cy="1214.2" r="35.4" fill="#b30326" stroke="#000" stroke-width="4.8"/>
<circle cx="1238.3" cy="1214.2" r="35.4" fill="#b30326" stroke="#000" stroke-width="4.8"/>
<circle cx="873.0" cy="1304.9" r="35.3" fill="#b30326" stroke="#000" stroke-width="4.8"/>
<circle cx="964.0" cy="1304.9" r="35.7" fill="#b30326" stroke="#000" stroke-width="4.8"/>
<circle cx="1055.4" cy="1304.9" r="23.9" fill="#779af6" stroke="#000" stroke-width="9.4"/>
<circle cx="1146.8" cy="1304.9" r="35.4" fill="#b30326" stroke="#000" stroke-width="4.8"/>
<circle cx="1238.3" cy="1304.9" r="35.4" fill="#b30326" stroke="#000" stroke-width="4.8"/>
<circle cx="873.0" cy="1395.6" r="35.3" fill="#b30326" stroke="#000" stroke-width="4.8"/>
<circle cx="964.0" cy="1395.6" r="34.8" fill="#c53233" stroke="#000" stroke-width="4.8"/>
<circle cx="1055.4" cy="1395.6" r="25.3" fill="#5f7ee7" stroke="#000" stroke-width="9.4"/>
<circle cx="1146.8" cy="1395.6" r="35.4" fill="#b30326" stroke="#000" stroke-width="4.8"/>
<circle cx="1238.3" cy="1395.6" r="35.4" fill="#b30326" stroke="#000" stroke-width="4.8"/>
<circle cx="873.0" cy="1486.5" r="35.3" fill="#b30326" stroke="#000" stroke-width="4.8"/>
<circle cx="964.0" cy="1486.5" r="33.6" fill="#de624d" stroke="#000" stroke-width="4.8"/>
<circle cx="1055.4" cy="1486.5" r="25.3" fill="#5f7ee7" stroke="#000" stroke-width="9.4"/>
<circle cx="1146.8" cy="1486.5" r="35.4" fill="#b30326" stroke="#000" stroke-width="4.8"/>
<circle cx="1238.3" cy="1486.5" r="35.4" fill="#b30326" stroke="#000" stroke-width="4.8"/>
<line x1="1403.6" y1="1032.2" x2="1768.8" y2="1032.2" stroke="#9a9a9a" stroke-width="3.9" stroke-linecap="butt" />
<line x1="1403.6" y1="1123.3" x2="1768.8" y2="1123.3" stroke="#9a9a9a" stroke-width="3.9" stroke-linecap="butt" />
<line x1="1403.6" y1="1214.2" x2="1768.8" y2="1214.2" stroke="#9a9a9a" stroke-width="3.9" stroke-linecap="butt" />
<line x1="1403.6" y1="1304.9" x2="1768.8" y2="1304.9" stroke="#9a9a9a" stroke-width="3.9" stroke-linecap="butt" />
<line x1="1403.6" y1="1395.6" x2="1768.8" y2="1395.6" stroke="#9a9a9a" stroke-width="3.9" stroke-linecap="butt" />
<line x1="1403.6" y1="1486.5" x2="1768.8" y2="1486.5" stroke="#9a9a9a" stroke-width="3.9" stroke-linecap="butt" />
<line x1="1403.6" y1="1032.2" x2="1403.6" y2="1486.5" stroke="#9a9a9a" stroke-width="3.9" stroke-linecap="butt" />
<line x1="1495.0" y1="1032.2" x2="1495.0" y2="1486.5" stroke="#9a9a9a" stroke-width="3.9" stroke-linecap="butt" />
<line x1="1586.5" y1="1032.2" x2="1586.5" y2="1486.5" stroke="#9a9a9a" stroke-width="3.9" stroke-linecap="butt" />
<line x1="1677.4" y1="1032.2" x2="1677.4" y2="1486.5" stroke="#9a9a9a" stroke-width="3.9" stroke-linecap="butt" />
<line x1="1768.8" y1="1032.2" x2="1768.8" y2="1486.5" stroke="#9a9a9a" stroke-width="3.9" stroke-linecap="butt" />
<line x1="1403.6" y1="1123.3" x2="1768.8" y2="1123.3" stroke="#000" stroke-width="9.4" stroke-linecap="butt" />
<line x1="1586.5" y1="1032.2" x2="1586.5" y2="1486.5" stroke="#000" stroke-width="9.4" stroke-linecap="butt" />
<circle cx="1403.6" cy="1032.2" r="35.5" fill="#b30326" stroke="#000" stroke-width="4.8"/>
<circle cx="1495.0" cy="1032.2" r="31.2" fill="#f6ab8d" stroke="#000" stroke-width="4.8"/>
<circle cx="1586.5" cy="1032.2" r="28.1" fill="#e1d9d4" stroke="#000" stroke-width="9.4"/>
<circle cx="1677.4" cy="1032.2" r="28.6" fill="#ecd1c2" stroke="#000" stroke-width="4.8"/>
<circle cx="1768.8" cy="1032.2" r="30.9" fill="#f6b295" stroke="#000" stroke-width="4.8"/>
<circle cx="1403.6" cy="1123.3" r="23.1" fill="#97b7fe" stroke="#000" stroke-width="9.4"/>
<circle cx="1495.0" cy="1123.3" r="26.1" fill="#4e69d8" stroke="#000" stroke-width="9.4"/>
<circle cx="1586.5" cy="1123.3" r="25.6" fill="#5876e2" stroke="#000" stroke-width="9.4"/>
<circle cx="1677.4" cy="1123.3" r="24.9" fill="#6283ea" stroke="#000" stroke-width="9.4"/>
<circle cx="1768.8" cy="1123.3" r="23.6" fill="#7b9ef8" stroke="#000" stroke-width="9.4"/>
<circle cx="1403.6" cy="1214.2" r="24.0" fill="#7093f3" stroke="#000" stroke-width="4.8"/>
<circle cx="1495.0" cy="1214.2" r="24.0" fill="#7496f4" stroke="#000" stroke-width="4.8"/>
<circle cx="1586.5" cy="1214.2" r="23.5" fill="#7b9ef8" stroke="#000" stroke-width="9.4"/>
<circle cx="1677.4" cy="1214.2" r="23.3" fill="#9abafe" stroke="#000" stroke-width="4.8"/>
<circle cx="1768.8" cy="1214.2" r="24.9" fill="#c0d3f5" stroke="#000" stroke-width="4.8"/>
<circle cx="1403.6" cy="1304.9" r="24.0" fill="#a1c0fd" stroke="#000" stroke-width="4.8"/>
<circle cx="1495.0" cy="1304.9" r="26.0" fill="#4e69d8" stroke="#000" stroke-width="4.8"/>
<circle cx="1586.5" cy="1304.9" r="25.8" fill="#5f7ee7" stroke="#000" stroke-width="9.4"/>
<circle cx="1677.4" cy="1304.9" r="23.3" fill="#97b7fe" stroke="#000" stroke-width="4.8"/>
<circle cx="1768.8" cy="1304.9" r="31.9" fill="#f29475" stroke="#000" stroke-width="4.8"/>
<circle cx="1403.6" cy="1395.6" r="23.1" fill="#82a5fa" stroke="#000" stroke-width="4.8"/>
<circle cx="1495.0" cy="1395.6" r="25.8" fill="#5572df" stroke="#000" stroke-width="4.8"/>
<circle cx="1586.5" cy="1395.6" r="25.8" fill="#5876e2" stroke="#000" stroke-width="9.4"/>
<circle cx="1677.4" cy="1395.6" r="26.4" fill="#4b64d4" stroke="#000" stroke-width="4.8"/>
<circle cx="1768.8" cy="1395.6" r="24.6" fill="#6d8ff1" stroke="#000" stroke-width="4.8"/>
<circle cx="1403.6" cy="1486.5" r="22.4" fill="#90b2fd" stroke="#000" stroke-width="4.8"/>
<circle cx="1495.0" cy="1486.5" r="25.3" fill="#5f7ee7" stroke="#000" stroke-width="4.8"/>
<circle cx="1586.5" cy="1486.5" r="25.8" fill="#5b7ae5" stroke="#000" stroke-width="9.4"/>
<circle cx="1677.4" cy="1486.5" r="26.4" fill="#4b64d4" stroke="#000" stroke-width="4.8"/>
<circle cx="1768.8" cy="1486.5" r="23.6" fill="#7093f3" stroke="#000" stroke-width="4.8"/>
<text x="297.7" y="1590.5" font-size="66" textLength="87.2" lengthAdjust="spacingAndGlyphs" >1.5</text>
<text x="482.0" y="1590.5" font-size="66" textLength="85.5" lengthAdjust="spacingAndGlyphs" >2.5</text>
<text x="665.2" y="1590.5" font-size="66" textLength="84.9" lengthAdjust="spacingAndGlyphs" >3.5</text>
<text x="828.3" y="1590.5" font-size="66" textLength="87.2" lengthAdjust="spacingAndGlyphs" >1.5</text>
<text x="1012.3" y="1590.5" font-size="66" textLength="85.5" lengthAdjust="spacingAndGlyphs" >2.5</text>
<text x="1195.9" y="1590.5" font-size="66" textLength="84.9" lengthAdjust="spacingAndGlyphs" >3.5</text>
<text x="1358.9" y="1590.5" font-size="66" textLength="87.2" lengthAdjust="spacingAndGlyphs" >1.5</text>
<text x="1543.4" y="1590.5" font-size="66" textLength="85.5" lengthAdjust="spacingAndGlyphs" >2.5</text>
<text x="1726.4" y="1590.5" font-size="66" textLength="84.9" lengthAdjust="spacingAndGlyphs" >3.5</text>
<text x="800.0" y="1670.3" font-size="76" textLength="226.0" lengthAdjust="spacingAndGlyphs" >density</text>
<text x="1054.8" y="1670.3" font-size="76" textLength="202.4" lengthAdjust="spacingAndGlyphs" >(g/cm</text>
<text x="1258.3" y="1644.3" font-size="44" textLength="19.4" lengthAdjust="spacingAndGlyphs" >3</text>
<text x="1284.8" y="1670.3" font-size="76" textLength="24.6" lengthAdjust="spacingAndGlyphs" >)</text>
<text x="1821.7" y="875.8" font-size="98" font-weight="bold" textLength="58.1" lengthAdjust="spacingAndGlyphs" >E</text>
<text x="1911.7" y="877.4" font-size="66" fill="#87888a" textLength="168.6" lengthAdjust="spacingAndGlyphs" >Cu-Zr</text>
<text x="1924.3" y="975.9" font-size="66" textLength="536.8" lengthAdjust="spacingAndGlyphs" >conditional on g(r)</text>
<line x1="1938.5" y1="1032.2" x2="2452.4" y2="1032.2" stroke="#9a9a9a" stroke-width="3.9" stroke-linecap="butt" />
<line x1="1938.5" y1="1123.3" x2="2452.4" y2="1123.3" stroke="#9a9a9a" stroke-width="3.9" stroke-linecap="butt" />
<line x1="1938.5" y1="1214.2" x2="2452.4" y2="1214.2" stroke="#9a9a9a" stroke-width="3.9" stroke-linecap="butt" />
<line x1="1938.5" y1="1304.9" x2="2452.4" y2="1304.9" stroke="#9a9a9a" stroke-width="3.9" stroke-linecap="butt" />
<line x1="1938.5" y1="1395.6" x2="2452.4" y2="1395.6" stroke="#9a9a9a" stroke-width="3.9" stroke-linecap="butt" />
<line x1="1938.5" y1="1486.5" x2="2452.4" y2="1486.5" stroke="#9a9a9a" stroke-width="3.9" stroke-linecap="butt" />
<line x1="1938.5" y1="1032.2" x2="1938.5" y2="1486.5" stroke="#9a9a9a" stroke-width="3.9" stroke-linecap="butt" />
<line x1="2024.4" y1="1032.2" x2="2024.4" y2="1486.5" stroke="#9a9a9a" stroke-width="3.9" stroke-linecap="butt" />
<line x1="2109.8" y1="1032.2" x2="2109.8" y2="1486.5" stroke="#9a9a9a" stroke-width="3.9" stroke-linecap="butt" />
<line x1="2195.2" y1="1032.2" x2="2195.2" y2="1486.5" stroke="#9a9a9a" stroke-width="3.9" stroke-linecap="butt" />
<line x1="2281.0" y1="1032.2" x2="2281.0" y2="1486.5" stroke="#9a9a9a" stroke-width="3.9" stroke-linecap="butt" />
<line x1="2366.5" y1="1032.2" x2="2366.5" y2="1486.5" stroke="#9a9a9a" stroke-width="3.9" stroke-linecap="butt" />
<line x1="2452.4" y1="1032.2" x2="2452.4" y2="1486.5" stroke="#9a9a9a" stroke-width="3.9" stroke-linecap="butt" />
<line x1="2195.2" y1="1032.2" x2="2195.2" y2="1486.5" stroke="#000" stroke-width="9.4" stroke-linecap="butt" />
<circle cx="1938.5" cy="1032.2" r="23.4" fill="#9dbdfe" stroke="#000" stroke-width="4.8"/>
<circle cx="2024.4" cy="1032.2" r="22.5" fill="#90b2fd" stroke="#000" stroke-width="4.8"/>
<circle cx="2109.8" cy="1032.2" r="23.3" fill="#7fa1f9" stroke="#000" stroke-width="4.8"/>
<circle cx="2195.2" cy="1032.2" r="23.7" fill="#7b9ef8" stroke="#000" stroke-width="9.4"/>
<circle cx="2281.0" cy="1032.2" r="23.0" fill="#97b7fe" stroke="#000" stroke-width="4.8"/>
<circle cx="2366.5" cy="1032.2" r="27.2" fill="#e1d9d4" stroke="#000" stroke-width="4.8"/>
<circle cx="2452.4" cy="1032.2" r="27.5" fill="#dddcdb" stroke="#000" stroke-width="4.8"/>
<circle cx="1938.5" cy="1123.3" r="25.7" fill="#c0d3f5" stroke="#000" stroke-width="4.8"/>
<circle cx="2024.4" cy="1123.3" r="24.9" fill="#abc7fc" stroke="#000" stroke-width="4.8"/>
<circle cx="2109.8" cy="1123.3" r="23.0" fill="#90b2fd" stroke="#000" stroke-width="4.8"/>
<circle cx="2195.2" cy="1123.3" r="23.1" fill="#89acfc" stroke="#000" stroke-width="9.4"/>
<circle cx="2281.0" cy="1123.3" r="23.0" fill="#90b2fd" stroke="#000" stroke-width="4.8"/>
<circle cx="2366.5" cy="1123.3" r="25.7" fill="#e1d9d4" stroke="#000" stroke-width="4.8"/>
<circle cx="2452.4" cy="1123.3" r="32.2" fill="#ef8c6e" stroke="#000" stroke-width="4.8"/>
<circle cx="1938.5" cy="1214.2" r="22.2" fill="#86a8fb" stroke="#000" stroke-width="4.8"/>
<circle cx="2024.4" cy="1214.2" r="22.5" fill="#88aafc" stroke="#000" stroke-width="4.8"/>
<circle cx="2109.8" cy="1214.2" r="23.0" fill="#88aafc" stroke="#000" stroke-width="4.8"/>
<circle cx="2195.2" cy="1214.2" r="23.7" fill="#86a8fb" stroke="#000" stroke-width="9.4"/>
<circle cx="2281.0" cy="1214.2" r="23.0" fill="#89acfc" stroke="#000" stroke-width="4.8"/>
<circle cx="2366.5" cy="1214.2" r="24.9" fill="#b6cef9" stroke="#000" stroke-width="4.8"/>
<circle cx="2452.4" cy="1214.2" r="27.1" fill="#d2dae7" stroke="#000" stroke-width="4.8"/>
<circle cx="1938.5" cy="1304.9" r="35.1" fill="#c53233" stroke="#000" stroke-width="4.8"/>
<circle cx="2024.4" cy="1304.9" r="25.2" fill="#b2ccfa" stroke="#000" stroke-width="4.8"/>
<circle cx="2109.8" cy="1304.9" r="22.7" fill="#86a8fb" stroke="#000" stroke-width="4.8"/>
<circle cx="2195.2" cy="1304.9" r="25.4" fill="#5f7ee7" stroke="#000" stroke-width="9.4"/>
<circle cx="2281.0" cy="1304.9" r="24.5" fill="#7093f3" stroke="#000" stroke-width="4.8"/>
<circle cx="2366.5" cy="1304.9" r="23.4" fill="#9abafe" stroke="#000" stroke-width="4.8"/>
<circle cx="2452.4" cy="1304.9" r="27.5" fill="#d7dbe1" stroke="#000" stroke-width="4.8"/>
<circle cx="1938.5" cy="1395.6" r="24.2" fill="#6d8ff1" stroke="#000" stroke-width="4.8"/>
<circle cx="2024.4" cy="1395.6" r="24.6" fill="#6e91f2" stroke="#000" stroke-width="4.8"/>
<circle cx="2109.8" cy="1395.6" r="24.8" fill="#6d8ff1" stroke="#000" stroke-width="4.8"/>
<circle cx="2195.2" cy="1395.6" r="24.5" fill="#6b8df0" stroke="#000" stroke-width="9.4"/>
<circle cx="2281.0" cy="1395.6" r="23.9" fill="#7496f4" stroke="#000" stroke-width="4.8"/>
<circle cx="2366.5" cy="1395.6" r="23.7" fill="#7698f5" stroke="#000" stroke-width="4.8"/>
<circle cx="2452.4" cy="1395.6" r="23.4" fill="#7b9ef8" stroke="#000" stroke-width="4.8"/>
<circle cx="1938.5" cy="1486.5" r="23.4" fill="#7b9ef8" stroke="#000" stroke-width="4.8"/>
<circle cx="2024.4" cy="1486.5" r="23.4" fill="#7b9ef8" stroke="#000" stroke-width="4.8"/>
<circle cx="2109.8" cy="1486.5" r="24.2" fill="#7496f4" stroke="#000" stroke-width="4.8"/>
<circle cx="2195.2" cy="1486.5" r="24.2" fill="#779af6" stroke="#000" stroke-width="9.4"/>
<circle cx="2281.0" cy="1486.5" r="23.9" fill="#7fa1f9" stroke="#000" stroke-width="4.8"/>
<circle cx="2366.5" cy="1486.5" r="23.4" fill="#7fa1f9" stroke="#000" stroke-width="4.8"/>
<circle cx="2452.4" cy="1486.5" r="23.4" fill="#82a5fa" stroke="#000" stroke-width="4.8"/>
<text x="1893.3" y="1590.0" font-size="66" textLength="87.8" lengthAdjust="spacingAndGlyphs" >0.2</text>
<text x="2064.5" y="1590.0" font-size="66" textLength="87.7" lengthAdjust="spacingAndGlyphs" >0.4</text>
<text x="2235.4" y="1590.0" font-size="66" textLength="87.1" lengthAdjust="spacingAndGlyphs" >0.6</text>
<text x="2406.1" y="1590.0" font-size="66" textLength="87.2" lengthAdjust="spacingAndGlyphs" >0.8</text>
<text x="1998.3" y="1689.1" font-size="78" textLength="235.6" lengthAdjust="spacingAndGlyphs" >x in Cu</text>
<text x="2235.3" y="1705.0" font-size="44" textLength="57.7" lengthAdjust="spacingAndGlyphs" >1-x</text>
<text x="2295.7" y="1689.1" font-size="78" textLength="71.7" lengthAdjust="spacingAndGlyphs" >Zr</text>
<text x="2367.6" y="1705.0" font-size="44" textLength="20.8" lengthAdjust="spacingAndGlyphs" >x</text>
<rect x="2522.8" y="1006.1" width="345.2" height="506.8" fill="#e5e6e7" rx="11" />
<text x="2629.1" y="1076.2" font-size="68" textLength="132.0" lengthAdjust="spacingAndGlyphs" class="onbox">ΔED</text>
<circle cx="2748.9" cy="1141.4" r="21.8" fill="#4054c7" stroke="#000" stroke-width="4.4"/>
<circle cx="2710.2" cy="1141.4" r="23.3" fill="#8daffd" stroke="#000" stroke-width="4.4"/>
<circle cx="2670.8" cy="1141.4" r="28.6" fill="#dddcdb" stroke="#000" stroke-width="4.4"/>
<circle cx="2631.9" cy="1141.4" r="32.8" fill="#f5a385" stroke="#000" stroke-width="4.4"/>
<circle cx="2596.0" cy="1141.4" r="35.5" fill="#b30326" stroke="#000" stroke-width="4.4"/>
<text x="2581.6" y="1163.6" font-size="66" textLength="32.8" lengthAdjust="spacingAndGlyphs" class="onred">3</text>
<text x="2777.7" y="1155.8" font-size="66" textLength="57.1" lengthAdjust="spacingAndGlyphs" class="onbox">-1</text>
<line x1="2564.4" y1="1263.4" x2="2632.3" y2="1263.4" stroke="#000" stroke-width="9.2" stroke-linecap="butt" />
<circle cx="2564.4" cy="1263.4" r="19.0" fill="#e5e6e7" stroke="#000" stroke-width="9.2"/>
<circle cx="2632.3" cy="1263.4" r="19.0" fill="#e5e6e7" stroke="#000" stroke-width="9.2"/>
<text x="2678.4" y="1277.2" font-size="66" textLength="166.4" lengthAdjust="spacingAndGlyphs" class="onbox">target</text>
<line x1="2600.4" y1="1376.5" x2="2600.4" y2="1443.6" stroke="#000" stroke-width="9.2" stroke-linecap="butt" />
<circle cx="2600.4" cy="1376.5" r="18.6" fill="#e5e6e7" stroke="#000" stroke-width="9.2"/>
<circle cx="2600.4" cy="1443.6" r="19.0" fill="#e5e6e7" stroke="#000" stroke-width="9.2"/>
<text x="2680.6" y="1389.5" font-size="66" textLength="130.8" lengthAdjust="spacingAndGlyphs" class="onbox">train</text>
<text x="2683.0" y="1456.0" font-size="66" textLength="121.1" lengthAdjust="spacingAndGlyphs" class="onbox">data</text>
<text x="40.5" y="1825.6" font-size="98" font-weight="bold" textLength="51.5" lengthAdjust="spacingAndGlyphs" >F</text>
<text x="245.5" y="1793.0" font-size="66" fill="#e0603f" textLength="169.0" lengthAdjust="spacingAndGlyphs" >target</text>
<text x="439.7" y="1793.0" font-size="66" textLength="74.7" lengthAdjust="spacingAndGlyphs" >vs.</text>
<text x="241.7" y="1858.0" font-size="66" fill="#4a90d9" textLength="274.0" lengthAdjust="spacingAndGlyphs" >train data</text>
<text x="976.7" y="1781.9" font-size="66" fill="#231f20" textLength="450.6" lengthAdjust="spacingAndGlyphs" >target spectrum</text>
<text x="734.6" y="1860.4" font-size="68" textLength="140.7" lengthAdjust="spacingAndGlyphs" >XRD</text>
<text x="1106.8" y="1861.1" font-size="68" textLength="207.7" lengthAdjust="spacingAndGlyphs" >EXAFS</text>
<text x="1547.6" y="1861.1" font-size="68" textLength="133.7" lengthAdjust="spacingAndGlyphs" >PDF</text>
<text transform="translate(91.4,2493.4) rotate(-90)" font-size="76" textLength="446.8" lengthAdjust="spacingAndGlyphs" >reconstructed</text>
<text transform="translate(182.9,2098.2) rotate(-90)" font-size="68" textLength="135.1" lengthAdjust="spacingAndGlyphs" >XRD</text>
<text transform="translate(182.9,2405.3) rotate(-90)" font-size="68" textLength="198.0" lengthAdjust="spacingAndGlyphs" >EXAFS</text>
<text transform="translate(183.0,2612.0) rotate(-90)" font-size="68" textLength="129.7" lengthAdjust="spacingAndGlyphs" >PDF</text>
<rect x="603.6" y="1919.0" width="401.9" height="234.8" fill="#f2f2f2" rx="14" />
<rect x="1009.3" y="2168.5" width="402.0" height="234.1" fill="#f2f2f2" rx="14" />
<rect x="1425.3" y="2421.8" width="401.9" height="234.1" fill="#f2f2f2" rx="14" />
<path d="M230.0,2122.3 C231.4,2120.2 235.3,2116.1 238.2,2109.6 C241.1,2103.0 244.8,2091.6 247.3,2083.1 C249.9,2074.6 251.7,2068.7 253.7,2058.5 C255.7,2048.4 257.4,2035.1 259.2,2022.1 C261.0,2009.0 262.8,1993.5 264.7,1980.2 C266.5,1966.8 268.5,1948.4 270.1,1941.9 C271.8,1935.3 273.3,1940.7 274.7,1941.0 C276.1,1941.3 277.0,1939.9 278.3,1943.7 C279.7,1947.5 281.1,1955.8 282.9,1963.7 C284.7,1971.6 287.3,1983.2 289.3,1991.1 C291.2,1999.0 292.9,2005.1 294.7,2011.1 C296.6,2017.2 298.4,2023.3 300.2,2027.5 C302.0,2031.8 303.7,2035.3 305.7,2036.7 C307.6,2038.0 309.9,2037.9 312.1,2035.7 C314.2,2033.6 316.2,2029.2 318.4,2023.9 C320.7,2018.6 323.3,2011.1 325.7,2003.8 C328.2,1996.6 330.9,1987.4 333.0,1980.2 C335.1,1972.9 336.4,1964.1 338.5,1960.1 C340.6,1956.2 343.3,1954.9 345.8,1956.5 C348.2,1958.0 350.9,1963.1 353.1,1969.2 C355.2,1975.3 356.7,1984.1 358.5,1992.9 C360.4,2001.7 362.2,2012.4 364.0,2022.1 C365.8,2031.8 367.6,2043.0 369.5,2051.2 C371.3,2059.4 373.0,2065.5 374.9,2071.3 C376.9,2077.1 379.2,2082.1 381.3,2085.9 C383.4,2089.7 385.6,2092.4 387.7,2094.1 C389.8,2095.8 391.6,2096.1 394.1,2095.9 C396.5,2095.8 399.4,2094.5 402.3,2093.2 C405.2,2091.8 408.4,2090.1 411.4,2087.7 C414.4,2085.3 417.5,2081.3 420.5,2078.6 C423.5,2075.9 426.3,2073.3 429.6,2071.3 C433.0,2069.3 437.5,2067.3 440.6,2066.7 C443.6,2066.1 445.1,2066.3 447.9,2067.6 C450.6,2069.0 453.9,2072.5 457.0,2074.9 C460.0,2077.4 462.4,2079.6 466.1,2082.2 C469.7,2084.8 474.3,2087.5 478.8,2090.4 C483.4,2093.3 488.0,2096.5 493.4,2099.5 C498.9,2102.6 505.6,2105.9 511.7,2108.7 C517.7,2111.4 523.8,2114.0 529.9,2116.0 C536.0,2117.9 541.4,2119.8 548.1,2120.5 C554.8,2121.3 566.3,2120.5 570.0,2120.5" stroke="#e9917b" stroke-width="6.4" fill="none" stroke-linejoin="round" />
<path d="M230.9,2064.9 C231.7,2069.0 234.0,2081.8 235.5,2089.5 C237.0,2097.3 238.7,2105.6 240.1,2111.4 C241.4,2117.2 242.2,2123.9 243.7,2124.2 C245.2,2124.5 247.3,2117.6 249.2,2113.2 C251.0,2108.8 253.1,2100.9 254.6,2097.7 C256.2,2094.5 256.5,2096.7 258.3,2094.1 C260.1,2091.5 263.4,2087.2 265.6,2082.2 C267.7,2077.2 269.2,2071.6 271.0,2064.0 C272.9,2056.4 274.7,2046.4 276.5,2036.7 C278.3,2026.9 280.2,2016.3 282.0,2005.7 C283.8,1995.0 285.3,1978.8 287.4,1972.9 C289.6,1966.9 292.6,1967.7 294.7,1970.1 C296.9,1972.6 298.1,1980.6 300.2,1987.4 C302.3,1994.3 305.1,2004.2 307.5,2011.1 C309.9,2018.1 312.4,2024.5 314.8,2029.4 C317.2,2034.2 319.6,2037.3 322.1,2040.3 C324.5,2043.3 326.6,2045.9 329.4,2047.6 C332.1,2049.3 335.7,2050.8 338.5,2050.3 C341.2,2049.9 343.3,2047.7 345.8,2044.9 C348.2,2042.0 350.6,2037.7 353.1,2033.0 C355.5,2028.3 358.2,2021.6 360.4,2016.6 C362.5,2011.6 364.0,2006.7 365.8,2002.9 C367.6,1999.1 369.5,1995.6 371.3,1993.8 C373.1,1992.0 375.2,1991.8 376.8,1992.0 C378.3,1992.2 378.7,1992.5 380.4,1994.7 C382.1,1997.0 384.7,2000.5 386.8,2005.7 C388.9,2010.8 390.9,2018.1 393.2,2025.7 C395.4,2033.3 398.0,2043.3 400.5,2051.2 C402.9,2059.1 405.3,2066.7 407.8,2073.1 C410.2,2079.5 412.6,2085.0 415.0,2089.5 C417.5,2094.1 419.6,2097.7 422.3,2100.5 C425.1,2103.2 428.4,2105.0 431.4,2105.9 C434.5,2106.8 437.2,2106.4 440.6,2105.9 C443.9,2105.5 447.9,2104.4 451.5,2103.2 C455.1,2102.0 458.8,2100.3 462.4,2098.6 C466.1,2097.0 469.7,2094.7 473.4,2093.2 C477.0,2091.6 480.7,2090.1 484.3,2089.5 C488.0,2088.9 491.6,2088.9 495.2,2089.5 C498.9,2090.1 502.2,2091.3 506.2,2093.2 C510.1,2095.0 514.4,2097.7 518.9,2100.5 C523.5,2103.2 528.7,2106.8 533.5,2109.6 C538.4,2112.3 542.0,2114.3 548.1,2116.9 C554.2,2119.4 566.3,2123.7 570.0,2125.1" stroke="#4a8fd8" stroke-width="6.4" fill="none" stroke-linejoin="round" />
<path d="M635.0,2122.3 C636.4,2120.2 640.3,2116.1 643.2,2109.6 C646.1,2103.0 649.8,2091.6 652.3,2083.1 C654.9,2074.6 656.7,2068.7 658.7,2058.5 C660.7,2048.4 662.4,2035.1 664.2,2022.1 C666.0,2009.0 667.8,1993.5 669.7,1980.2 C671.5,1966.8 673.5,1948.4 675.1,1941.9 C676.8,1935.3 678.3,1940.7 679.7,1941.0 C681.1,1941.3 682.0,1939.9 683.3,1943.7 C684.7,1947.5 686.1,1955.8 687.9,1963.7 C689.7,1971.6 692.3,1983.2 694.3,1991.1 C696.2,1999.0 697.9,2005.1 699.7,2011.1 C701.6,2017.2 703.4,2023.3 705.2,2027.5 C707.0,2031.8 708.7,2035.3 710.7,2036.7 C712.6,2038.0 714.9,2037.9 717.1,2035.7 C719.2,2033.6 721.2,2029.2 723.4,2023.9 C725.7,2018.6 728.3,2011.1 730.7,2003.8 C733.2,1996.6 735.9,1987.4 738.0,1980.2 C740.1,1972.9 741.4,1964.1 743.5,1960.1 C745.6,1956.2 748.3,1954.9 750.8,1956.5 C753.2,1958.0 755.9,1963.1 758.1,1969.2 C760.2,1975.3 761.7,1984.1 763.5,1992.9 C765.4,2001.7 767.2,2012.4 769.0,2022.1 C770.8,2031.8 772.6,2043.0 774.5,2051.2 C776.3,2059.4 778.0,2065.5 779.9,2071.3 C781.9,2077.1 784.2,2082.1 786.3,2085.9 C788.4,2089.7 790.6,2092.4 792.7,2094.1 C794.8,2095.8 796.6,2096.1 799.1,2095.9 C801.5,2095.8 804.4,2094.5 807.3,2093.2 C810.2,2091.8 813.4,2090.1 816.4,2087.7 C819.4,2085.3 822.5,2081.3 825.5,2078.6 C828.5,2075.9 831.3,2073.3 834.6,2071.3 C838.0,2069.3 842.5,2067.3 845.6,2066.7 C848.6,2066.1 850.1,2066.3 852.9,2067.6 C855.6,2069.0 858.9,2072.5 862.0,2074.9 C865.0,2077.4 867.4,2079.6 871.1,2082.2 C874.7,2084.8 879.3,2087.5 883.8,2090.4 C888.4,2093.3 893.0,2096.5 898.4,2099.5 C903.9,2102.6 910.6,2105.9 916.7,2108.7 C922.7,2111.4 928.8,2114.0 934.9,2116.0 C941.0,2117.9 946.4,2119.8 953.1,2120.5 C959.8,2121.3 971.3,2120.5 975.0,2120.5" stroke="#e9917b" stroke-width="6.4" fill="none" stroke-linejoin="round" />
<path d="M633.2,2084.1 C634.4,2083.6 638.7,2082.2 640.5,2081.3 C642.3,2080.4 642.9,2080.7 644.1,2078.6 C645.4,2076.5 646.4,2070.7 647.8,2068.6 C649.2,2066.4 651.1,2066.6 652.3,2065.8 C653.6,2065.1 653.7,2066.0 655.1,2064.0 C656.4,2062.0 659.0,2057.9 660.5,2054.0 C662.1,2050.0 662.8,2045.9 664.2,2040.3 C665.6,2034.7 667.2,2027.2 668.7,2020.3 C670.3,2013.3 671.8,2005.8 673.3,1998.4 C674.8,1990.9 676.2,1979.5 677.9,1975.6 C679.5,1971.6 681.7,1972.4 683.3,1974.7 C685.0,1977.0 686.4,1982.9 687.9,1989.3 C689.4,1995.6 690.8,2006.9 692.4,2013.0 C694.1,2019.0 695.8,2021.5 697.9,2025.7 C700.0,2030.0 703.1,2035.1 705.2,2038.5 C707.3,2041.8 708.7,2044.6 710.7,2045.8 C712.6,2047.0 714.9,2047.0 717.1,2045.8 C719.2,2044.6 721.2,2042.1 723.4,2038.5 C725.7,2034.8 728.3,2029.1 730.7,2023.9 C733.2,2018.7 735.9,2012.7 738.0,2007.5 C740.1,2002.3 741.7,1997.8 743.5,1992.9 C745.3,1988.1 747.4,1981.8 749.0,1978.3 C750.5,1974.8 751.2,1973.0 752.6,1972.0 C754.0,1970.9 755.3,1969.7 757.2,1972.0 C759.0,1974.2 761.3,1979.4 763.5,1985.6 C765.8,1991.8 768.4,2002.0 770.8,2009.3 C773.3,2016.6 775.7,2022.7 778.1,2029.4 C780.5,2036.1 783.0,2043.3 785.4,2049.4 C787.8,2055.5 790.3,2061.3 792.7,2065.8 C795.1,2070.4 797.6,2073.7 800.0,2076.8 C802.4,2079.8 804.5,2081.9 807.3,2084.1 C810.0,2086.2 813.4,2088.5 816.4,2089.5 C819.4,2090.6 822.2,2090.7 825.5,2090.4 C828.9,2090.1 832.5,2088.8 836.4,2087.7 C840.4,2086.6 845.0,2084.7 849.2,2084.1 C853.5,2083.4 857.7,2083.9 862.0,2084.1 C866.2,2084.2 870.2,2084.2 874.7,2085.0 C879.3,2085.7 884.4,2086.8 889.3,2088.6 C894.2,2090.4 898.7,2093.2 903.9,2095.9 C909.1,2098.6 914.5,2102.0 920.3,2105.0 C926.1,2108.1 932.4,2111.4 938.5,2114.1 C944.6,2116.9 950.5,2119.3 956.8,2121.4 C963.0,2123.5 972.7,2126.0 975.9,2126.9" stroke="#222222" stroke-width="6.9" fill="none" stroke-linejoin="round" />
<path d="M1040.0,2122.3 C1041.4,2120.2 1045.3,2116.1 1048.2,2109.6 C1051.1,2103.0 1054.8,2091.6 1057.3,2083.1 C1059.9,2074.6 1061.7,2068.7 1063.7,2058.5 C1065.7,2048.4 1067.4,2035.1 1069.2,2022.1 C1071.0,2009.0 1072.8,1993.5 1074.7,1980.2 C1076.5,1966.8 1078.5,1948.4 1080.1,1941.9 C1081.8,1935.3 1083.3,1940.7 1084.7,1941.0 C1086.1,1941.3 1087.0,1939.9 1088.3,1943.7 C1089.7,1947.5 1091.1,1955.8 1092.9,1963.7 C1094.7,1971.6 1097.3,1983.2 1099.3,1991.1 C1101.2,1999.0 1102.9,2005.1 1104.7,2011.1 C1106.6,2017.2 1108.4,2023.3 1110.2,2027.5 C1112.0,2031.8 1113.7,2035.3 1115.7,2036.7 C1117.6,2038.0 1119.9,2037.9 1122.1,2035.7 C1124.2,2033.6 1126.2,2029.2 1128.4,2023.9 C1130.7,2018.6 1133.3,2011.1 1135.7,2003.8 C1138.2,1996.6 1140.9,1987.4 1143.0,1980.2 C1145.1,1972.9 1146.4,1964.1 1148.5,1960.1 C1150.6,1956.2 1153.3,1954.9 1155.8,1956.5 C1158.2,1958.0 1160.9,1963.1 1163.1,1969.2 C1165.2,1975.3 1166.7,1984.1 1168.5,1992.9 C1170.4,2001.7 1172.2,2012.4 1174.0,2022.1 C1175.8,2031.8 1177.6,2043.0 1179.5,2051.2 C1181.3,2059.4 1183.0,2065.5 1184.9,2071.3 C1186.9,2077.1 1189.2,2082.1 1191.3,2085.9 C1193.4,2089.7 1195.6,2092.4 1197.7,2094.1 C1199.8,2095.8 1201.6,2096.1 1204.1,2095.9 C1206.5,2095.8 1209.4,2094.5 1212.3,2093.2 C1215.2,2091.8 1218.4,2090.1 1221.4,2087.7 C1224.4,2085.3 1227.5,2081.3 1230.5,2078.6 C1233.5,2075.9 1236.3,2073.3 1239.6,2071.3 C1243.0,2069.3 1247.5,2067.3 1250.6,2066.7 C1253.6,2066.1 1255.1,2066.3 1257.9,2067.6 C1260.6,2069.0 1263.9,2072.5 1267.0,2074.9 C1270.0,2077.4 1272.4,2079.6 1276.1,2082.2 C1279.7,2084.8 1284.3,2087.5 1288.8,2090.4 C1293.4,2093.3 1298.0,2096.5 1303.4,2099.5 C1308.9,2102.6 1315.6,2105.9 1321.7,2108.7 C1327.7,2111.4 1333.8,2114.0 1339.9,2116.0 C1346.0,2117.9 1351.4,2119.8 1358.1,2120.5 C1364.8,2121.3 1376.3,2120.5 1380.0,2120.5" stroke="#e9917b" stroke-width="6.4" fill="none" stroke-linejoin="round" />
<path d="M1040.9,2012.1 C1041.7,2009.2 1044.0,2000.7 1045.5,1994.7 C1047.0,1988.8 1048.7,1981.8 1050.1,1976.5 C1051.4,1971.2 1052.2,1967.1 1053.7,1962.8 C1055.2,1958.6 1057.5,1955.1 1059.2,1951.0 C1060.8,1946.9 1061.9,1943.5 1063.7,1938.2 C1065.5,1932.9 1068.0,1922.4 1070.1,1919.1 C1072.2,1915.7 1074.4,1916.8 1076.5,1918.2 C1078.6,1919.5 1080.6,1923.5 1082.9,1927.3 C1085.1,1931.1 1087.7,1936.3 1090.2,1941.0 C1092.6,1945.7 1095.3,1951.1 1097.4,1955.5 C1099.6,1960.0 1101.4,1963.6 1102.9,1967.4 C1104.4,1971.2 1105.3,1974.7 1106.6,1978.3 C1107.8,1982.0 1108.1,1986.2 1110.2,1989.3 C1112.3,1992.3 1116.9,1994.4 1119.3,1996.6 C1121.7,1998.7 1122.7,1999.7 1124.8,2002.0 C1126.9,2004.3 1129.6,2008.7 1132.1,2010.2 C1134.5,2011.7 1136.6,2010.8 1139.4,2011.1 C1142.1,2011.4 1145.7,2011.7 1148.5,2012.1 C1151.2,2012.4 1153.3,2012.1 1155.8,2013.0 C1158.2,2013.9 1160.6,2016.0 1163.1,2017.5 C1165.5,2019.0 1167.6,2020.3 1170.4,2022.1 C1173.1,2023.9 1176.7,2025.9 1179.5,2028.5 C1182.2,2031.0 1184.6,2035.0 1186.8,2037.6 C1188.9,2040.2 1190.1,2041.8 1192.2,2044.0 C1194.4,2046.1 1197.1,2048.1 1199.5,2050.3 C1202.0,2052.6 1204.4,2055.2 1206.8,2057.6 C1209.2,2060.1 1211.7,2063.1 1214.1,2064.9 C1216.5,2066.7 1218.4,2067.2 1221.4,2068.6 C1224.4,2069.9 1228.7,2071.7 1232.3,2073.1 C1236.0,2074.5 1239.3,2075.5 1243.3,2076.8 C1247.2,2078.0 1251.8,2079.3 1256.0,2080.4 C1260.3,2081.5 1264.2,2081.9 1268.8,2083.1 C1273.3,2084.4 1278.8,2086.2 1283.4,2087.7 C1287.9,2089.2 1291.9,2090.6 1296.1,2092.3 C1300.4,2093.9 1304.6,2096.1 1308.9,2097.7 C1313.1,2099.4 1317.1,2100.5 1321.7,2102.3 C1326.2,2104.1 1331.4,2106.8 1336.2,2108.7 C1341.1,2110.5 1346.0,2111.7 1350.8,2113.2 C1355.7,2114.7 1360.4,2116.1 1365.4,2117.8 C1370.4,2119.4 1378.3,2122.3 1380.9,2123.2" stroke="#222222" stroke-width="6.9" fill="none" stroke-linejoin="round" />
<path d="M1445.0,2122.3 C1446.4,2120.2 1450.3,2116.1 1453.2,2109.6 C1456.1,2103.0 1459.8,2091.6 1462.3,2083.1 C1464.9,2074.6 1466.7,2068.7 1468.7,2058.5 C1470.7,2048.4 1472.4,2035.1 1474.2,2022.1 C1476.0,2009.0 1477.8,1993.5 1479.7,1980.2 C1481.5,1966.8 1483.5,1948.4 1485.1,1941.9 C1486.8,1935.3 1488.3,1940.7 1489.7,1941.0 C1491.1,1941.3 1492.0,1939.9 1493.3,1943.7 C1494.7,1947.5 1496.1,1955.8 1497.9,1963.7 C1499.7,1971.6 1502.3,1983.2 1504.3,1991.1 C1506.2,1999.0 1507.9,2005.1 1509.7,2011.1 C1511.6,2017.2 1513.4,2023.3 1515.2,2027.5 C1517.0,2031.8 1518.7,2035.3 1520.7,2036.7 C1522.6,2038.0 1524.9,2037.9 1527.1,2035.7 C1529.2,2033.6 1531.2,2029.2 1533.4,2023.9 C1535.7,2018.6 1538.3,2011.1 1540.7,2003.8 C1543.2,1996.6 1545.9,1987.4 1548.0,1980.2 C1550.1,1972.9 1551.4,1964.1 1553.5,1960.1 C1555.6,1956.2 1558.3,1954.9 1560.8,1956.5 C1563.2,1958.0 1565.9,1963.1 1568.1,1969.2 C1570.2,1975.3 1571.7,1984.1 1573.5,1992.9 C1575.4,2001.7 1577.2,2012.4 1579.0,2022.1 C1580.8,2031.8 1582.6,2043.0 1584.5,2051.2 C1586.3,2059.4 1588.0,2065.5 1589.9,2071.3 C1591.9,2077.1 1594.2,2082.1 1596.3,2085.9 C1598.4,2089.7 1600.6,2092.4 1602.7,2094.1 C1604.8,2095.8 1606.6,2096.1 1609.1,2095.9 C1611.5,2095.8 1614.4,2094.5 1617.3,2093.2 C1620.2,2091.8 1623.4,2090.1 1626.4,2087.7 C1629.4,2085.3 1632.5,2081.3 1635.5,2078.6 C1638.5,2075.9 1641.3,2073.3 1644.6,2071.3 C1648.0,2069.3 1652.5,2067.3 1655.6,2066.7 C1658.6,2066.1 1660.1,2066.3 1662.9,2067.6 C1665.6,2069.0 1668.9,2072.5 1672.0,2074.9 C1675.0,2077.4 1677.4,2079.6 1681.1,2082.2 C1684.7,2084.8 1689.3,2087.5 1693.8,2090.4 C1698.4,2093.3 1703.0,2096.5 1708.4,2099.5 C1713.9,2102.6 1720.6,2105.9 1726.7,2108.7 C1732.7,2111.4 1738.8,2114.0 1744.9,2116.0 C1751.0,2117.9 1756.4,2119.8 1763.1,2120.5 C1769.8,2121.3 1781.3,2120.5 1785.0,2120.5" stroke="#e9917b" stroke-width="6.4" fill="none" stroke-linejoin="round" />
<path d="M1445.9,2087.7 C1446.8,2085.0 1449.7,2076.3 1451.4,2071.3 C1453.1,2066.3 1454.7,2061.4 1456.0,2057.6 C1457.2,2053.8 1457.6,2050.8 1458.7,2048.5 C1459.8,2046.2 1461.1,2045.3 1462.3,2044.0 C1463.6,2042.6 1464.6,2043.3 1466.0,2040.3 C1467.4,2037.3 1469.0,2031.8 1470.5,2025.7 C1472.1,2019.6 1473.4,2009.3 1475.1,2003.8 C1476.8,1998.4 1478.7,1996.6 1480.6,1992.9 C1482.4,1989.3 1483.9,1985.3 1486.0,1982.0 C1488.2,1978.6 1491.1,1972.6 1493.3,1972.9 C1495.6,1973.2 1497.7,1979.2 1499.7,1983.8 C1501.7,1988.4 1503.4,1994.7 1505.2,2000.2 C1507.0,2005.7 1508.8,2011.9 1510.6,2016.6 C1512.5,2021.3 1514.3,2024.8 1516.1,2028.5 C1517.9,2032.1 1519.8,2036.2 1521.6,2038.5 C1523.4,2040.8 1525.1,2042.4 1527.1,2042.1 C1529.0,2041.8 1531.3,2040.0 1533.4,2036.7 C1535.6,2033.3 1537.7,2027.9 1539.8,2022.1 C1541.9,2016.3 1544.2,2008.7 1546.2,2002.0 C1548.2,1995.3 1550.1,1988.4 1551.7,1982.0 C1553.2,1975.6 1553.6,1967.7 1555.3,1963.7 C1557.0,1959.8 1559.6,1957.1 1561.7,1958.3 C1563.8,1959.5 1566.1,1965.6 1568.1,1971.0 C1570.0,1976.5 1571.7,1983.8 1573.5,1991.1 C1575.4,1998.4 1577.2,2007.2 1579.0,2014.8 C1580.8,2022.4 1582.6,2030.0 1584.5,2036.7 C1586.3,2043.3 1588.0,2049.1 1589.9,2054.9 C1591.9,2060.7 1594.2,2066.7 1596.3,2071.3 C1598.4,2075.9 1600.4,2079.2 1602.7,2082.2 C1605.0,2085.3 1607.6,2088.0 1610.0,2089.5 C1612.4,2091.0 1614.9,2091.3 1617.3,2091.3 C1619.7,2091.3 1621.8,2090.9 1624.6,2089.5 C1627.3,2088.2 1630.3,2085.4 1633.7,2083.1 C1637.0,2080.9 1641.0,2077.8 1644.6,2075.9 C1648.3,2073.9 1652.2,2071.9 1655.6,2071.3 C1658.9,2070.7 1661.6,2071.3 1664.7,2072.2 C1667.7,2073.1 1670.4,2074.8 1673.8,2076.8 C1677.1,2078.7 1680.8,2081.5 1684.7,2084.1 C1688.7,2086.6 1692.9,2089.5 1697.5,2092.3 C1702.0,2095.0 1707.2,2097.7 1712.1,2100.5 C1716.9,2103.2 1721.8,2106.1 1726.7,2108.7 C1731.5,2111.2 1736.4,2114.1 1741.2,2116.0 C1746.1,2117.8 1751.0,2118.7 1755.8,2119.6 C1760.7,2120.5 1765.4,2121.0 1770.4,2121.4 C1775.4,2121.9 1783.3,2122.2 1785.9,2122.3" stroke="#222222" stroke-width="6.9" fill="none" stroke-linejoin="round" />
<path d="M229.1,2355.9 C230.6,2355.4 235.8,2355.1 238.2,2353.2 C240.7,2351.2 241.9,2349.8 243.7,2344.1 C245.5,2338.3 247.3,2329.2 249.2,2318.5 C251.0,2307.9 252.8,2294.2 254.6,2280.3 C256.5,2266.3 258.4,2246.5 260.1,2234.7 C261.8,2222.8 263.3,2214.8 264.7,2209.2 C266.0,2203.5 267.1,2201.9 268.3,2201.0 C269.5,2200.1 270.6,2199.6 272.0,2203.7 C273.3,2207.8 274.8,2215.8 276.5,2225.6 C278.2,2235.3 280.3,2249.9 282.0,2262.0 C283.6,2274.2 285.0,2286.3 286.5,2298.5 C288.1,2310.6 289.7,2326.4 291.1,2334.9 C292.5,2343.4 293.5,2346.8 294.7,2349.5 C296.0,2352.3 297.0,2352.3 298.4,2351.3 C299.7,2350.4 301.1,2348.0 302.9,2344.1 C304.8,2340.1 307.0,2333.7 309.3,2327.6 C311.6,2321.6 314.2,2314.3 316.6,2307.6 C319.0,2300.9 321.5,2294.2 323.9,2287.5 C326.3,2280.9 329.1,2272.5 331.2,2267.5 C333.3,2262.5 334.8,2259.0 336.7,2257.5 C338.5,2256.0 340.3,2256.7 342.1,2258.4 C344.0,2260.1 345.8,2263.5 347.6,2267.5 C349.4,2271.4 351.2,2276.9 353.1,2282.1 C354.9,2287.2 356.7,2293.3 358.5,2298.5 C360.4,2303.6 362.3,2309.7 364.0,2313.1 C365.7,2316.4 366.9,2318.2 368.6,2318.5 C370.2,2318.8 372.1,2317.0 374.0,2314.9 C376.0,2312.8 378.1,2309.1 380.4,2305.8 C382.7,2302.4 385.3,2298.3 387.7,2294.8 C390.1,2291.3 392.6,2287.7 395.0,2284.8 C397.4,2281.9 400.2,2278.7 402.3,2277.5 C404.4,2276.3 405.9,2276.8 407.8,2277.5 C409.6,2278.3 411.1,2279.8 413.2,2282.1 C415.3,2284.4 418.1,2288.0 420.5,2291.2 C422.9,2294.4 425.7,2298.8 427.8,2301.2 C429.9,2303.6 431.1,2305.5 433.3,2305.8 C435.4,2306.1 437.8,2304.9 440.6,2303.0 C443.3,2301.2 446.6,2297.4 449.7,2294.8 C452.7,2292.3 456.1,2289.4 458.8,2287.5 C461.5,2285.7 463.7,2284.1 466.1,2283.9 C468.5,2283.7 470.9,2285.3 473.4,2286.6 C475.8,2288.0 477.9,2290.1 480.7,2292.1 C483.4,2294.1 486.7,2297.6 489.8,2298.5 C492.8,2299.4 495.9,2298.3 498.9,2297.6 C501.9,2296.8 504.7,2295.3 508.0,2293.9 C511.3,2292.6 515.3,2290.4 518.9,2289.4 C522.6,2288.3 526.2,2287.5 529.9,2287.5 C533.5,2287.5 537.5,2288.3 540.8,2289.4 C544.2,2290.4 546.9,2292.6 549.9,2293.9 C553.0,2295.3 555.6,2297.4 559.0,2297.6 C562.5,2297.7 568.9,2295.3 570.9,2294.8" stroke="#e9917b" stroke-width="6.4" fill="none" stroke-linejoin="round" />
<path d="M230.9,2288.5 C231.4,2292.3 232.6,2302.0 233.7,2311.2 C234.7,2320.5 236.1,2334.0 237.3,2344.1 C238.5,2354.1 239.6,2363.5 241.0,2371.4 C242.3,2379.3 243.8,2386.3 245.5,2391.4 C247.2,2396.6 249.0,2399.8 251.0,2402.4 C253.0,2405.0 255.2,2407.2 257.4,2406.9 C259.5,2406.6 261.9,2403.4 263.7,2400.6 C265.6,2397.7 266.8,2395.4 268.3,2389.6 C269.8,2383.9 271.5,2374.7 272.9,2365.9 C274.2,2357.1 275.3,2346.5 276.5,2336.8 C277.7,2327.0 278.9,2317.0 280.2,2307.6 C281.4,2298.2 282.6,2290.0 283.8,2280.3 C285.0,2270.5 286.1,2259.0 287.4,2249.3 C288.8,2239.5 290.5,2229.5 292.0,2221.9 C293.5,2214.3 295.0,2207.3 296.6,2203.7 C298.1,2200.1 299.6,2199.1 301.1,2200.1 C302.6,2201.0 304.0,2204.6 305.7,2209.2 C307.3,2213.7 309.3,2220.4 311.1,2227.4 C313.0,2234.4 314.8,2242.9 316.6,2251.1 C318.4,2259.3 320.3,2268.4 322.1,2276.6 C323.9,2284.8 326.0,2293.3 327.5,2300.3 C329.1,2307.3 329.7,2313.1 331.2,2318.5 C332.7,2324.0 334.8,2329.5 336.7,2333.1 C338.5,2336.8 340.3,2339.0 342.1,2340.4 C344.0,2341.8 345.8,2342.2 347.6,2341.3 C349.4,2340.4 351.2,2338.1 353.1,2334.9 C354.9,2331.7 356.7,2327.3 358.5,2322.2 C360.4,2317.0 362.2,2310.0 364.0,2304.0 C365.8,2297.9 367.6,2291.2 369.5,2285.7 C371.3,2280.3 373.1,2274.9 374.9,2271.1 C376.8,2267.3 378.6,2264.6 380.4,2262.9 C382.2,2261.3 384.1,2260.8 385.9,2261.1 C387.7,2261.4 389.4,2262.8 391.3,2264.8 C393.3,2266.7 395.6,2269.9 397.7,2273.0 C399.9,2276.0 401.8,2279.2 404.1,2283.0 C406.4,2286.8 409.0,2291.6 411.4,2295.7 C413.8,2299.9 416.4,2304.9 418.7,2307.6 C421.0,2310.3 422.9,2312.0 425.1,2312.2 C427.2,2312.3 429.2,2310.5 431.4,2308.5 C433.7,2306.5 436.0,2303.3 438.7,2300.3 C441.5,2297.3 444.8,2293.2 447.9,2290.3 C450.9,2287.4 453.9,2284.5 457.0,2283.0 C460.0,2281.5 463.0,2280.4 466.1,2281.2 C469.1,2281.9 472.2,2285.3 475.2,2287.5 C478.2,2289.8 481.3,2292.7 484.3,2294.8 C487.3,2297.0 490.1,2299.2 493.4,2300.3 C496.8,2301.4 500.7,2301.7 504.4,2301.2 C508.0,2300.8 511.7,2299.2 515.3,2297.6 C518.9,2295.9 522.6,2293.0 526.2,2291.2 C529.9,2289.4 533.8,2287.2 537.2,2286.6 C540.5,2286.0 542.9,2286.8 546.3,2287.5 C549.6,2288.3 553.1,2290.0 557.2,2291.2 C561.3,2292.4 568.6,2294.2 570.9,2294.8" stroke="#4a8fd8" stroke-width="6.4" fill="none" stroke-linejoin="round" />
<path d="M634.1,2355.9 C635.6,2355.4 640.8,2355.1 643.2,2353.2 C645.7,2351.2 646.9,2349.8 648.7,2344.1 C650.5,2338.3 652.3,2329.2 654.2,2318.5 C656.0,2307.9 657.8,2294.2 659.6,2280.3 C661.5,2266.3 663.4,2246.5 665.1,2234.7 C666.8,2222.8 668.3,2214.8 669.7,2209.2 C671.0,2203.5 672.1,2201.9 673.3,2201.0 C674.5,2200.1 675.6,2199.6 677.0,2203.7 C678.3,2207.8 679.8,2215.8 681.5,2225.6 C683.2,2235.3 685.3,2249.9 687.0,2262.0 C688.6,2274.2 690.0,2286.3 691.5,2298.5 C693.1,2310.6 694.7,2326.4 696.1,2334.9 C697.5,2343.4 698.5,2346.8 699.7,2349.5 C701.0,2352.3 702.0,2352.3 703.4,2351.3 C704.7,2350.4 706.1,2348.0 707.9,2344.1 C709.8,2340.1 712.0,2333.7 714.3,2327.6 C716.6,2321.6 719.2,2314.3 721.6,2307.6 C724.0,2300.9 726.5,2294.2 728.9,2287.5 C731.3,2280.9 734.1,2272.5 736.2,2267.5 C738.3,2262.5 739.8,2259.0 741.7,2257.5 C743.5,2256.0 745.3,2256.7 747.1,2258.4 C749.0,2260.1 750.8,2263.5 752.6,2267.5 C754.4,2271.4 756.2,2276.9 758.1,2282.1 C759.9,2287.2 761.7,2293.3 763.5,2298.5 C765.4,2303.6 767.3,2309.7 769.0,2313.1 C770.7,2316.4 771.9,2318.2 773.6,2318.5 C775.2,2318.8 777.1,2317.0 779.0,2314.9 C781.0,2312.8 783.1,2309.1 785.4,2305.8 C787.7,2302.4 790.3,2298.3 792.7,2294.8 C795.1,2291.3 797.6,2287.7 800.0,2284.8 C802.4,2281.9 805.2,2278.7 807.3,2277.5 C809.4,2276.3 810.9,2276.8 812.8,2277.5 C814.6,2278.3 816.1,2279.8 818.2,2282.1 C820.3,2284.4 823.1,2288.0 825.5,2291.2 C827.9,2294.4 830.7,2298.8 832.8,2301.2 C834.9,2303.6 836.1,2305.5 838.3,2305.8 C840.4,2306.1 842.8,2304.9 845.6,2303.0 C848.3,2301.2 851.6,2297.4 854.7,2294.8 C857.7,2292.3 861.1,2289.4 863.8,2287.5 C866.5,2285.7 868.7,2284.1 871.1,2283.9 C873.5,2283.7 875.9,2285.3 878.4,2286.6 C880.8,2288.0 882.9,2290.1 885.7,2292.1 C888.4,2294.1 891.7,2297.6 894.8,2298.5 C897.8,2299.4 900.9,2298.3 903.9,2297.6 C906.9,2296.8 909.7,2295.3 913.0,2293.9 C916.3,2292.6 920.3,2290.4 923.9,2289.4 C927.6,2288.3 931.2,2287.5 934.9,2287.5 C938.5,2287.5 942.5,2288.3 945.8,2289.4 C949.2,2290.4 951.9,2292.6 954.9,2293.9 C958.0,2295.3 960.6,2297.4 964.0,2297.6 C967.5,2297.7 973.9,2295.3 975.9,2294.8" stroke="#e9917b" stroke-width="6.4" fill="none" stroke-linejoin="round" />
<path d="M635.9,2314.0 C636.4,2317.5 637.8,2327.5 638.7,2334.9 C639.6,2342.4 640.5,2351.6 641.4,2358.6 C642.3,2365.6 643.2,2372.0 644.1,2376.9 C645.1,2381.7 645.8,2385.1 646.9,2387.8 C647.9,2390.5 649.3,2393.6 650.5,2393.3 C651.7,2393.0 652.9,2389.9 654.2,2386.0 C655.4,2382.0 656.6,2376.0 657.8,2369.6 C659.0,2363.2 660.2,2355.3 661.5,2347.7 C662.7,2340.1 663.9,2331.9 665.1,2324.0 C666.3,2316.1 667.5,2307.6 668.7,2300.3 C670.0,2293.0 671.0,2286.0 672.4,2280.3 C673.8,2274.5 675.4,2269.2 677.0,2265.7 C678.5,2262.2 679.7,2260.7 681.5,2259.3 C683.3,2257.9 685.8,2257.5 687.9,2257.5 C690.0,2257.5 692.1,2257.9 694.3,2259.3 C696.4,2260.7 698.7,2263.1 700.6,2265.7 C702.6,2268.3 704.3,2271.1 706.1,2274.8 C707.9,2278.4 709.6,2283.0 711.6,2287.5 C713.6,2292.1 716.0,2297.7 718.0,2302.1 C719.9,2306.5 721.6,2311.2 723.4,2314.0 C725.3,2316.7 727.1,2318.4 728.9,2318.5 C730.7,2318.7 732.2,2317.0 734.4,2314.9 C736.5,2312.8 739.2,2308.8 741.7,2305.8 C744.1,2302.7 747.1,2299.1 749.0,2296.7 C750.8,2294.2 750.8,2292.7 752.6,2291.2 C754.4,2289.7 757.2,2288.8 759.9,2287.5 C762.6,2286.3 766.3,2285.0 769.0,2283.9 C771.7,2282.8 774.2,2281.2 776.3,2281.2 C778.4,2281.2 779.6,2282.2 781.8,2283.9 C783.9,2285.6 786.6,2288.9 789.1,2291.2 C791.5,2293.5 793.9,2296.2 796.3,2297.6 C798.8,2298.9 800.9,2299.5 803.6,2299.4 C806.4,2299.2 809.7,2297.6 812.8,2296.7 C815.8,2295.7 818.5,2295.0 821.9,2293.9 C825.2,2292.9 829.2,2291.3 832.8,2290.3 C836.4,2289.2 840.4,2287.7 843.7,2287.5 C847.1,2287.4 849.8,2288.3 852.9,2289.4 C855.9,2290.4 859.2,2292.9 862.0,2293.9 C864.7,2295.0 866.2,2295.6 869.3,2295.7 C872.3,2295.9 876.2,2295.3 880.2,2294.8 C884.1,2294.4 888.4,2293.5 893.0,2293.0 C897.5,2292.6 903.0,2292.4 907.5,2292.1 C912.1,2291.8 915.7,2291.0 920.3,2291.2 C924.9,2291.3 930.0,2292.7 934.9,2293.0 C939.7,2293.3 944.9,2293.1 949.5,2293.0 C954.0,2293.0 957.8,2292.6 962.2,2292.7 C966.6,2292.7 973.6,2293.3 975.9,2293.4" stroke="#222222" stroke-width="6.9" fill="none" stroke-linejoin="round" />
<path d="M1039.1,2355.9 C1040.6,2355.4 1045.8,2355.1 1048.2,2353.2 C1050.7,2351.2 1051.9,2349.8 1053.7,2344.1 C1055.5,2338.3 1057.3,2329.2 1059.2,2318.5 C1061.0,2307.9 1062.8,2294.2 1064.6,2280.3 C1066.5,2266.3 1068.4,2246.5 1070.1,2234.7 C1071.8,2222.8 1073.3,2214.8 1074.7,2209.2 C1076.0,2203.5 1077.1,2201.9 1078.3,2201.0 C1079.5,2200.1 1080.6,2199.6 1082.0,2203.7 C1083.3,2207.8 1084.8,2215.8 1086.5,2225.6 C1088.2,2235.3 1090.3,2249.9 1092.0,2262.0 C1093.6,2274.2 1095.0,2286.3 1096.5,2298.5 C1098.1,2310.6 1099.7,2326.4 1101.1,2334.9 C1102.5,2343.4 1103.5,2346.8 1104.7,2349.5 C1106.0,2352.3 1107.0,2352.3 1108.4,2351.3 C1109.7,2350.4 1111.1,2348.0 1112.9,2344.1 C1114.8,2340.1 1117.0,2333.7 1119.3,2327.6 C1121.6,2321.6 1124.2,2314.3 1126.6,2307.6 C1129.0,2300.9 1131.5,2294.2 1133.9,2287.5 C1136.3,2280.9 1139.1,2272.5 1141.2,2267.5 C1143.3,2262.5 1144.8,2259.0 1146.7,2257.5 C1148.5,2256.0 1150.3,2256.7 1152.1,2258.4 C1154.0,2260.1 1155.8,2263.5 1157.6,2267.5 C1159.4,2271.4 1161.2,2276.9 1163.1,2282.1 C1164.9,2287.2 1166.7,2293.3 1168.5,2298.5 C1170.4,2303.6 1172.3,2309.7 1174.0,2313.1 C1175.7,2316.4 1176.9,2318.2 1178.6,2318.5 C1180.2,2318.8 1182.1,2317.0 1184.0,2314.9 C1186.0,2312.8 1188.1,2309.1 1190.4,2305.8 C1192.7,2302.4 1195.3,2298.3 1197.7,2294.8 C1200.1,2291.3 1202.6,2287.7 1205.0,2284.8 C1207.4,2281.9 1210.2,2278.7 1212.3,2277.5 C1214.4,2276.3 1215.9,2276.8 1217.8,2277.5 C1219.6,2278.3 1221.1,2279.8 1223.2,2282.1 C1225.3,2284.4 1228.1,2288.0 1230.5,2291.2 C1232.9,2294.4 1235.7,2298.8 1237.8,2301.2 C1239.9,2303.6 1241.1,2305.5 1243.3,2305.8 C1245.4,2306.1 1247.8,2304.9 1250.6,2303.0 C1253.3,2301.2 1256.6,2297.4 1259.7,2294.8 C1262.7,2292.3 1266.1,2289.4 1268.8,2287.5 C1271.5,2285.7 1273.7,2284.1 1276.1,2283.9 C1278.5,2283.7 1280.9,2285.3 1283.4,2286.6 C1285.8,2288.0 1287.9,2290.1 1290.7,2292.1 C1293.4,2294.1 1296.7,2297.6 1299.8,2298.5 C1302.8,2299.4 1305.9,2298.3 1308.9,2297.6 C1311.9,2296.8 1314.7,2295.3 1318.0,2293.9 C1321.3,2292.6 1325.3,2290.4 1328.9,2289.4 C1332.6,2288.3 1336.2,2287.5 1339.9,2287.5 C1343.5,2287.5 1347.5,2288.3 1350.8,2289.4 C1354.2,2290.4 1356.9,2292.6 1359.9,2293.9 C1363.0,2295.3 1365.6,2297.4 1369.0,2297.6 C1372.5,2297.7 1378.9,2295.3 1380.9,2294.8" stroke="#e9917b" stroke-width="6.4" fill="none" stroke-linejoin="round" />
<path d="M1040.0,2350.4 C1041.5,2351.5 1046.9,2356.7 1049.1,2356.8 C1051.4,2357.0 1052.3,2354.1 1053.7,2351.3 C1055.1,2348.6 1056.1,2345.3 1057.3,2340.4 C1058.6,2335.5 1059.8,2330.1 1061.0,2322.2 C1062.2,2314.3 1063.4,2303.0 1064.6,2293.0 C1065.8,2283.0 1067.1,2272.4 1068.3,2262.0 C1069.5,2251.7 1070.7,2239.8 1071.9,2231.0 C1073.1,2222.2 1074.4,2213.7 1075.6,2209.2 C1076.8,2204.6 1078.0,2203.4 1079.2,2203.7 C1080.4,2204.0 1081.6,2207.0 1082.9,2211.0 C1084.1,2214.9 1085.3,2221.0 1086.5,2227.4 C1087.7,2233.8 1088.9,2241.4 1090.2,2249.3 C1091.4,2257.2 1092.6,2266.6 1093.8,2274.8 C1095.0,2283.0 1096.2,2290.3 1097.4,2298.5 C1098.7,2306.7 1099.9,2317.0 1101.1,2324.0 C1102.3,2331.0 1103.4,2336.9 1104.7,2340.4 C1106.1,2343.9 1107.8,2345.0 1109.3,2345.0 C1110.8,2345.0 1112.2,2343.3 1113.8,2340.4 C1115.5,2337.5 1117.5,2332.5 1119.3,2327.6 C1121.1,2322.8 1122.7,2317.0 1124.8,2311.2 C1126.9,2305.5 1129.6,2299.1 1132.1,2293.0 C1134.5,2286.9 1137.2,2279.5 1139.4,2274.8 C1141.5,2270.1 1143.0,2267.0 1144.8,2264.8 C1146.7,2262.5 1148.5,2260.8 1150.3,2261.1 C1152.1,2261.4 1154.0,2263.4 1155.8,2266.6 C1157.6,2269.8 1159.4,2275.5 1161.2,2280.3 C1163.1,2285.0 1164.9,2290.3 1166.7,2294.8 C1168.5,2299.4 1170.4,2304.4 1172.2,2307.6 C1174.0,2310.8 1175.8,2313.1 1177.6,2314.0 C1179.5,2314.9 1181.0,2314.7 1183.1,2313.1 C1185.2,2311.4 1188.0,2307.1 1190.4,2304.0 C1192.8,2300.8 1195.3,2297.3 1197.7,2293.9 C1200.1,2290.6 1202.9,2286.5 1205.0,2283.9 C1207.1,2281.3 1208.6,2279.5 1210.5,2278.4 C1212.3,2277.4 1213.8,2277.1 1215.9,2277.5 C1218.1,2278.0 1220.8,2278.9 1223.2,2281.2 C1225.6,2283.4 1228.1,2287.9 1230.5,2291.2 C1232.9,2294.5 1235.5,2299.1 1237.8,2301.2 C1240.1,2303.3 1242.1,2304.0 1244.2,2304.0 C1246.3,2304.0 1248.0,2302.7 1250.6,2301.2 C1253.1,2299.7 1256.6,2297.0 1259.7,2294.8 C1262.7,2292.7 1265.8,2290.0 1268.8,2288.5 C1271.8,2286.9 1275.2,2285.9 1277.9,2285.7 C1280.6,2285.6 1282.5,2286.2 1285.2,2287.5 C1287.9,2288.9 1291.3,2292.1 1294.3,2293.9 C1297.3,2295.7 1300.1,2298.0 1303.4,2298.5 C1306.8,2298.9 1310.7,2297.6 1314.4,2296.7 C1318.0,2295.7 1321.7,2294.1 1325.3,2293.0 C1328.9,2292.0 1332.6,2290.8 1336.2,2290.3 C1339.9,2289.8 1343.5,2289.6 1347.2,2289.9 C1350.8,2290.2 1354.5,2291.1 1358.1,2292.1 C1361.8,2293.1 1365.2,2295.4 1369.0,2295.7 C1372.8,2296.1 1378.9,2294.2 1380.9,2293.9" stroke="#222222" stroke-width="6.9" fill="none" stroke-linejoin="round" />
<path d="M1444.1,2355.9 C1445.6,2355.4 1450.8,2355.1 1453.2,2353.2 C1455.7,2351.2 1456.9,2349.8 1458.7,2344.1 C1460.5,2338.3 1462.3,2329.2 1464.2,2318.5 C1466.0,2307.9 1467.8,2294.2 1469.6,2280.3 C1471.5,2266.3 1473.4,2246.5 1475.1,2234.7 C1476.8,2222.8 1478.3,2214.8 1479.7,2209.2 C1481.0,2203.5 1482.1,2201.9 1483.3,2201.0 C1484.5,2200.1 1485.6,2199.6 1487.0,2203.7 C1488.3,2207.8 1489.8,2215.8 1491.5,2225.6 C1493.2,2235.3 1495.3,2249.9 1497.0,2262.0 C1498.6,2274.2 1500.0,2286.3 1501.5,2298.5 C1503.1,2310.6 1504.7,2326.4 1506.1,2334.9 C1507.5,2343.4 1508.5,2346.8 1509.7,2349.5 C1511.0,2352.3 1512.0,2352.3 1513.4,2351.3 C1514.7,2350.4 1516.1,2348.0 1517.9,2344.1 C1519.8,2340.1 1522.0,2333.7 1524.3,2327.6 C1526.6,2321.6 1529.2,2314.3 1531.6,2307.6 C1534.0,2300.9 1536.5,2294.2 1538.9,2287.5 C1541.3,2280.9 1544.1,2272.5 1546.2,2267.5 C1548.3,2262.5 1549.8,2259.0 1551.7,2257.5 C1553.5,2256.0 1555.3,2256.7 1557.1,2258.4 C1559.0,2260.1 1560.8,2263.5 1562.6,2267.5 C1564.4,2271.4 1566.2,2276.9 1568.1,2282.1 C1569.9,2287.2 1571.7,2293.3 1573.5,2298.5 C1575.4,2303.6 1577.3,2309.7 1579.0,2313.1 C1580.7,2316.4 1581.9,2318.2 1583.6,2318.5 C1585.2,2318.8 1587.1,2317.0 1589.0,2314.9 C1591.0,2312.8 1593.1,2309.1 1595.4,2305.8 C1597.7,2302.4 1600.3,2298.3 1602.7,2294.8 C1605.1,2291.3 1607.6,2287.7 1610.0,2284.8 C1612.4,2281.9 1615.2,2278.7 1617.3,2277.5 C1619.4,2276.3 1620.9,2276.8 1622.8,2277.5 C1624.6,2278.3 1626.1,2279.8 1628.2,2282.1 C1630.3,2284.4 1633.1,2288.0 1635.5,2291.2 C1637.9,2294.4 1640.7,2298.8 1642.8,2301.2 C1644.9,2303.6 1646.1,2305.5 1648.3,2305.8 C1650.4,2306.1 1652.8,2304.9 1655.6,2303.0 C1658.3,2301.2 1661.6,2297.4 1664.7,2294.8 C1667.7,2292.3 1671.1,2289.4 1673.8,2287.5 C1676.5,2285.7 1678.7,2284.1 1681.1,2283.9 C1683.5,2283.7 1685.9,2285.3 1688.4,2286.6 C1690.8,2288.0 1692.9,2290.1 1695.7,2292.1 C1698.4,2294.1 1701.7,2297.6 1704.8,2298.5 C1707.8,2299.4 1710.9,2298.3 1713.9,2297.6 C1716.9,2296.8 1719.7,2295.3 1723.0,2293.9 C1726.3,2292.6 1730.3,2290.4 1733.9,2289.4 C1737.6,2288.3 1741.2,2287.5 1744.9,2287.5 C1748.5,2287.5 1752.5,2288.3 1755.8,2289.4 C1759.2,2290.4 1761.9,2292.6 1764.9,2293.9 C1768.0,2295.3 1770.6,2297.4 1774.0,2297.6 C1777.5,2297.7 1783.9,2295.3 1785.9,2294.8" stroke="#e9917b" stroke-width="6.4" fill="none" stroke-linejoin="round" />
<path d="M1445.0,2343.1 C1446.7,2344.5 1452.6,2351.2 1455.1,2351.3 C1457.5,2351.5 1458.1,2348.0 1459.6,2344.1 C1461.1,2340.1 1462.6,2334.9 1464.2,2327.6 C1465.7,2320.4 1467.2,2310.3 1468.7,2300.3 C1470.2,2290.3 1471.9,2277.2 1473.3,2267.5 C1474.6,2257.8 1475.7,2249.3 1476.9,2242.0 C1478.1,2234.7 1479.4,2227.4 1480.6,2223.7 C1481.8,2220.1 1482.8,2219.2 1484.2,2220.1 C1485.6,2221.0 1487.3,2223.7 1488.8,2229.2 C1490.3,2234.7 1491.8,2244.7 1493.3,2252.9 C1494.8,2261.1 1496.4,2270.2 1497.9,2278.4 C1499.4,2286.6 1500.9,2295.1 1502.4,2302.1 C1504.0,2309.1 1505.5,2315.6 1507.0,2320.4 C1508.5,2325.1 1510.0,2328.6 1511.6,2330.4 C1513.1,2332.2 1514.4,2332.4 1516.1,2331.3 C1517.8,2330.2 1519.6,2327.3 1521.6,2324.0 C1523.6,2320.7 1525.7,2315.5 1528.0,2311.2 C1530.2,2307.0 1532.8,2302.7 1535.3,2298.5 C1537.7,2294.2 1540.1,2289.7 1542.5,2285.7 C1545.0,2281.8 1547.6,2277.5 1549.8,2274.8 C1552.1,2272.1 1554.1,2269.3 1556.2,2269.3 C1558.3,2269.3 1560.6,2272.1 1562.6,2274.8 C1564.6,2277.5 1566.2,2281.8 1568.1,2285.7 C1569.9,2289.7 1571.7,2295.0 1573.5,2298.5 C1575.4,2302.0 1577.2,2305.0 1579.0,2306.7 C1580.8,2308.4 1582.3,2309.0 1584.5,2308.5 C1586.6,2308.1 1589.0,2305.9 1591.8,2304.0 C1594.5,2302.0 1597.8,2299.1 1600.9,2296.7 C1603.9,2294.2 1607.3,2291.3 1610.0,2289.4 C1612.7,2287.4 1614.9,2285.7 1617.3,2284.8 C1619.7,2283.9 1622.1,2283.4 1624.6,2283.9 C1627.0,2284.4 1629.4,2285.9 1631.9,2287.5 C1634.3,2289.2 1636.7,2292.0 1639.2,2293.9 C1641.6,2295.9 1644.0,2298.5 1646.4,2299.4 C1648.9,2300.3 1651.0,2300.0 1653.7,2299.4 C1656.5,2298.8 1659.5,2297.3 1662.9,2295.7 C1666.2,2294.2 1670.4,2291.6 1673.8,2290.3 C1677.1,2289.0 1680.2,2288.2 1682.9,2287.9 C1685.6,2287.6 1687.5,2287.6 1690.2,2288.5 C1692.9,2289.3 1696.3,2291.6 1699.3,2293.0 C1702.3,2294.4 1705.1,2296.1 1708.4,2296.7 C1711.8,2297.3 1715.7,2297.1 1719.4,2296.7 C1723.0,2296.2 1726.7,2294.8 1730.3,2293.9 C1733.9,2293.1 1737.6,2292.2 1741.2,2291.6 C1744.9,2290.9 1748.5,2289.8 1752.2,2289.9 C1755.8,2290.0 1759.5,2291.2 1763.1,2292.1 C1766.8,2293.0 1770.2,2294.8 1774.0,2295.2 C1777.8,2295.6 1783.9,2294.6 1785.9,2294.5" stroke="#222222" stroke-width="6.9" fill="none" stroke-linejoin="round" />
<path d="M228.2,2628.7 C239.0,2628.7 277.3,2628.7 292.9,2628.7 C308.6,2628.7 315.4,2628.9 322.1,2628.7 C328.8,2628.6 330.0,2628.4 333.0,2627.8 C336.1,2627.2 337.9,2626.6 340.3,2625.1 C342.7,2623.5 345.5,2621.9 347.6,2618.7 C349.7,2615.5 351.2,2611.7 353.1,2605.9 C354.9,2600.2 356.7,2593.8 358.5,2584.1 C360.4,2574.3 362.5,2559.7 364.0,2547.6 C365.5,2535.4 366.4,2522.7 367.6,2511.1 C368.9,2499.6 369.8,2488.1 371.3,2478.3 C372.8,2468.6 375.2,2458.0 376.8,2452.8 C378.3,2447.6 378.9,2447.6 380.4,2447.3 C381.9,2447.0 384.2,2447.0 385.9,2451.0 C387.5,2454.9 388.9,2463.1 390.4,2471.0 C392.0,2478.9 393.5,2489.3 395.0,2498.4 C396.5,2507.5 398.0,2516.9 399.5,2525.7 C401.1,2534.5 402.4,2543.0 404.1,2551.2 C405.8,2559.4 407.8,2568.0 409.6,2574.9 C411.4,2581.9 413.2,2588.0 415.0,2593.2 C416.9,2598.3 418.4,2602.6 420.5,2605.9 C422.6,2609.3 425.4,2611.5 427.8,2613.2 C430.2,2614.9 432.7,2615.8 435.1,2616.0 C437.5,2616.1 440.0,2615.2 442.4,2614.1 C444.8,2613.1 447.2,2611.5 449.7,2609.6 C452.1,2607.6 454.2,2605.0 457.0,2602.3 C459.7,2599.5 463.0,2596.4 466.1,2593.2 C469.1,2590.0 472.2,2586.5 475.2,2583.1 C478.2,2579.8 481.3,2576.6 484.3,2573.1 C487.3,2569.6 490.4,2566.0 493.4,2562.2 C496.5,2558.4 499.5,2554.3 502.5,2550.3 C505.6,2546.4 508.9,2542.0 511.7,2538.5 C514.4,2535.0 516.5,2532.1 518.9,2529.4 C521.4,2526.6 524.4,2523.6 526.2,2522.1 C528.1,2520.6 528.4,2520.3 529.9,2520.3 C531.4,2520.3 533.5,2521.2 535.3,2522.1 C537.2,2523.0 538.7,2523.6 540.8,2525.7 C542.9,2527.9 545.4,2531.2 548.1,2534.8 C550.8,2538.5 553.6,2542.7 557.2,2547.6 C560.9,2552.5 567.9,2561.3 570.0,2564.0" stroke="#e9917b" stroke-width="6.4" fill="none" stroke-linejoin="round" />
<path d="M228.2,2628.7 C239.6,2628.7 284.0,2629.2 296.6,2628.7 C309.2,2628.3 301.4,2627.6 303.8,2626.0 C306.3,2624.3 309.0,2622.3 311.1,2618.7 C313.3,2615.0 314.8,2609.9 316.6,2604.1 C318.4,2598.3 320.3,2592.6 322.1,2584.1 C323.9,2575.5 325.7,2564.3 327.5,2553.1 C329.4,2541.8 331.2,2529.1 333.0,2516.6 C334.8,2504.2 336.4,2486.7 338.5,2478.3 C340.6,2470.0 343.3,2465.0 345.8,2466.5 C348.2,2468.0 350.9,2479.1 353.1,2487.4 C355.2,2495.8 356.7,2506.6 358.5,2516.6 C360.4,2526.6 362.2,2537.9 364.0,2547.6 C365.8,2557.3 367.6,2567.0 369.5,2574.9 C371.3,2582.8 373.1,2589.5 374.9,2595.0 C376.8,2600.5 378.6,2604.7 380.4,2607.8 C382.2,2610.8 383.9,2612.2 385.9,2613.2 C387.9,2614.3 390.1,2614.4 392.3,2614.1 C394.4,2613.8 396.4,2612.8 398.6,2611.4 C400.9,2610.0 403.2,2608.7 405.9,2605.9 C408.7,2603.2 412.0,2598.9 415.0,2595.0 C418.1,2591.0 421.1,2586.8 424.2,2582.2 C427.2,2577.7 430.2,2572.5 433.3,2567.6 C436.3,2562.8 439.3,2557.9 442.4,2553.1 C445.4,2548.2 448.8,2542.4 451.5,2538.5 C454.2,2534.5 456.4,2531.6 458.8,2529.4 C461.2,2527.1 463.7,2525.3 466.1,2524.8 C468.5,2524.4 470.9,2525.3 473.4,2526.6 C475.8,2528.0 477.9,2529.8 480.7,2533.0 C483.4,2536.2 486.7,2541.5 489.8,2545.8 C492.8,2550.0 495.9,2554.7 498.9,2558.5 C501.9,2562.3 505.0,2565.8 508.0,2568.6 C511.0,2571.3 513.5,2573.3 517.1,2574.9 C520.8,2576.6 524.7,2577.8 529.9,2578.6 C535.0,2579.3 541.3,2579.5 548.1,2579.5 C554.9,2579.5 567.1,2578.7 570.9,2578.6" stroke="#4a8fd8" stroke-width="6.4" fill="none" stroke-linejoin="round" />
<path d="M633.2,2628.7 C644.0,2628.7 682.3,2628.7 697.9,2628.7 C713.6,2628.7 720.4,2628.9 727.1,2628.7 C733.8,2628.6 735.0,2628.4 738.0,2627.8 C741.1,2627.2 742.9,2626.6 745.3,2625.1 C747.7,2623.5 750.5,2621.9 752.6,2618.7 C754.7,2615.5 756.2,2611.7 758.1,2605.9 C759.9,2600.2 761.7,2593.8 763.5,2584.1 C765.4,2574.3 767.5,2559.7 769.0,2547.6 C770.5,2535.4 771.4,2522.7 772.6,2511.1 C773.9,2499.6 774.8,2488.1 776.3,2478.3 C777.8,2468.6 780.2,2458.0 781.8,2452.8 C783.3,2447.6 783.9,2447.6 785.4,2447.3 C786.9,2447.0 789.2,2447.0 790.9,2451.0 C792.5,2454.9 793.9,2463.1 795.4,2471.0 C797.0,2478.9 798.5,2489.3 800.0,2498.4 C801.5,2507.5 803.0,2516.9 804.5,2525.7 C806.1,2534.5 807.4,2543.0 809.1,2551.2 C810.8,2559.4 812.8,2568.0 814.6,2574.9 C816.4,2581.9 818.2,2588.0 820.0,2593.2 C821.9,2598.3 823.4,2602.6 825.5,2605.9 C827.6,2609.3 830.4,2611.5 832.8,2613.2 C835.2,2614.9 837.7,2615.8 840.1,2616.0 C842.5,2616.1 845.0,2615.2 847.4,2614.1 C849.8,2613.1 852.2,2611.5 854.7,2609.6 C857.1,2607.6 859.2,2605.0 862.0,2602.3 C864.7,2599.5 868.0,2596.4 871.1,2593.2 C874.1,2590.0 877.2,2586.5 880.2,2583.1 C883.2,2579.8 886.3,2576.6 889.3,2573.1 C892.3,2569.6 895.4,2566.0 898.4,2562.2 C901.5,2558.4 904.5,2554.3 907.5,2550.3 C910.6,2546.4 913.9,2542.0 916.7,2538.5 C919.4,2535.0 921.5,2532.1 923.9,2529.4 C926.4,2526.6 929.4,2523.6 931.2,2522.1 C933.1,2520.6 933.4,2520.3 934.9,2520.3 C936.4,2520.3 938.5,2521.2 940.3,2522.1 C942.2,2523.0 943.7,2523.6 945.8,2525.7 C947.9,2527.9 950.4,2531.2 953.1,2534.8 C955.8,2538.5 958.6,2542.7 962.2,2547.6 C965.9,2552.5 972.9,2561.3 975.0,2564.0" stroke="#e9917b" stroke-width="6.4" fill="none" stroke-linejoin="round" />
<path d="M633.2,2626.0 C635.5,2626.3 640.6,2627.4 646.9,2627.8 C653.1,2628.2 662.1,2628.0 670.6,2628.2 C679.1,2628.3 691.2,2628.8 697.9,2628.7 C704.6,2628.7 707.3,2628.4 710.7,2627.8 C714.0,2627.2 715.7,2626.6 718.0,2625.1 C720.2,2623.5 722.2,2621.9 724.3,2618.7 C726.5,2615.5 728.7,2611.1 730.7,2605.9 C732.7,2600.8 734.4,2595.0 736.2,2587.7 C738.0,2580.4 739.8,2571.9 741.7,2562.2 C743.5,2552.5 745.3,2540.0 747.1,2529.4 C749.0,2518.7 750.9,2508.1 752.6,2498.4 C754.3,2488.7 755.6,2477.7 757.2,2471.0 C758.7,2464.4 760.3,2461.2 761.7,2458.3 C763.1,2455.4 763.8,2453.6 765.4,2453.7 C766.9,2453.9 769.0,2454.8 770.8,2459.2 C772.6,2463.6 774.5,2472.4 776.3,2480.2 C778.1,2487.9 779.9,2497.2 781.8,2505.7 C783.6,2514.2 785.4,2523.0 787.2,2531.2 C789.1,2539.4 790.9,2547.3 792.7,2554.9 C794.5,2562.5 796.3,2570.4 798.2,2576.8 C800.0,2583.1 801.5,2588.9 803.6,2593.2 C805.8,2597.4 808.5,2600.9 810.9,2602.3 C813.4,2603.6 815.5,2602.3 818.2,2601.4 C821.0,2600.5 824.0,2598.3 827.3,2596.8 C830.7,2595.3 834.6,2593.9 838.3,2592.3 C841.9,2590.6 845.9,2588.8 849.2,2586.8 C852.5,2584.8 855.0,2583.1 858.3,2580.4 C861.7,2577.7 865.6,2573.9 869.3,2570.4 C872.9,2566.9 876.5,2562.9 880.2,2559.4 C883.8,2556.0 887.8,2552.2 891.1,2549.4 C894.5,2546.7 897.2,2544.4 900.2,2543.0 C903.3,2541.7 906.0,2541.4 909.4,2541.2 C912.7,2541.1 916.7,2541.4 920.3,2542.1 C923.9,2542.9 927.3,2544.3 931.2,2545.8 C935.2,2547.3 939.4,2549.3 944.0,2551.2 C948.6,2553.2 953.4,2555.5 958.6,2557.6 C963.7,2559.7 972.2,2562.9 975.0,2564.0" stroke="#222222" stroke-width="6.9" fill="none" stroke-linejoin="round" />
<path d="M1038.2,2628.7 C1049.0,2628.7 1087.3,2628.7 1102.9,2628.7 C1118.6,2628.7 1125.4,2628.9 1132.1,2628.7 C1138.8,2628.6 1140.0,2628.4 1143.0,2627.8 C1146.1,2627.2 1147.9,2626.6 1150.3,2625.1 C1152.7,2623.5 1155.5,2621.9 1157.6,2618.7 C1159.7,2615.5 1161.2,2611.7 1163.1,2605.9 C1164.9,2600.2 1166.7,2593.8 1168.5,2584.1 C1170.4,2574.3 1172.5,2559.7 1174.0,2547.6 C1175.5,2535.4 1176.4,2522.7 1177.6,2511.1 C1178.9,2499.6 1179.8,2488.1 1181.3,2478.3 C1182.8,2468.6 1185.2,2458.0 1186.8,2452.8 C1188.3,2447.6 1188.9,2447.6 1190.4,2447.3 C1191.9,2447.0 1194.2,2447.0 1195.9,2451.0 C1197.5,2454.9 1198.9,2463.1 1200.4,2471.0 C1202.0,2478.9 1203.5,2489.3 1205.0,2498.4 C1206.5,2507.5 1208.0,2516.9 1209.5,2525.7 C1211.1,2534.5 1212.4,2543.0 1214.1,2551.2 C1215.8,2559.4 1217.8,2568.0 1219.6,2574.9 C1221.4,2581.9 1223.2,2588.0 1225.0,2593.2 C1226.9,2598.3 1228.4,2602.6 1230.5,2605.9 C1232.6,2609.3 1235.4,2611.5 1237.8,2613.2 C1240.2,2614.9 1242.7,2615.8 1245.1,2616.0 C1247.5,2616.1 1250.0,2615.2 1252.4,2614.1 C1254.8,2613.1 1257.2,2611.5 1259.7,2609.6 C1262.1,2607.6 1264.2,2605.0 1267.0,2602.3 C1269.7,2599.5 1273.0,2596.4 1276.1,2593.2 C1279.1,2590.0 1282.2,2586.5 1285.2,2583.1 C1288.2,2579.8 1291.3,2576.6 1294.3,2573.1 C1297.3,2569.6 1300.4,2566.0 1303.4,2562.2 C1306.5,2558.4 1309.5,2554.3 1312.5,2550.3 C1315.6,2546.4 1318.9,2542.0 1321.7,2538.5 C1324.4,2535.0 1326.5,2532.1 1328.9,2529.4 C1331.4,2526.6 1334.4,2523.6 1336.2,2522.1 C1338.1,2520.6 1338.4,2520.3 1339.9,2520.3 C1341.4,2520.3 1343.5,2521.2 1345.3,2522.1 C1347.2,2523.0 1348.7,2523.6 1350.8,2525.7 C1352.9,2527.9 1355.4,2531.2 1358.1,2534.8 C1360.8,2538.5 1363.6,2542.7 1367.2,2547.6 C1370.9,2552.5 1377.9,2561.3 1380.0,2564.0" stroke="#e9917b" stroke-width="6.4" fill="none" stroke-linejoin="round" />
<path d="M1039.1,2599.5 C1042.2,2599.7 1052.2,2599.9 1057.3,2600.5 C1062.5,2601.1 1064.6,2602.3 1070.1,2603.2 C1075.6,2604.1 1084.1,2605.9 1090.2,2605.9 C1096.2,2605.9 1101.4,2604.6 1106.6,2603.2 C1111.7,2601.8 1116.9,2600.0 1121.1,2597.7 C1125.4,2595.4 1128.7,2592.7 1132.1,2589.5 C1135.4,2586.3 1138.2,2582.2 1141.2,2578.6 C1144.2,2574.9 1147.6,2570.5 1150.3,2567.6 C1153.0,2564.8 1155.0,2562.6 1157.6,2561.3 C1160.2,2559.9 1163.1,2559.3 1165.8,2559.4 C1168.5,2559.6 1171.1,2560.7 1174.0,2562.2 C1176.9,2563.7 1180.1,2566.1 1183.1,2568.6 C1186.2,2571.0 1189.2,2574.3 1192.2,2576.8 C1195.3,2579.2 1198.3,2581.6 1201.3,2583.1 C1204.4,2584.7 1207.4,2585.4 1210.5,2585.9 C1213.5,2586.4 1216.2,2586.5 1219.6,2586.2 C1222.9,2585.9 1226.6,2585.2 1230.5,2584.1 C1234.5,2582.9 1239.0,2581.3 1243.3,2579.5 C1247.5,2577.7 1251.8,2575.2 1256.0,2573.1 C1260.3,2571.0 1264.5,2568.7 1268.8,2566.7 C1273.0,2564.8 1277.6,2562.6 1281.5,2561.3 C1285.5,2559.9 1288.5,2559.2 1292.5,2558.5 C1296.4,2557.8 1300.4,2557.4 1305.2,2557.1 C1310.1,2556.8 1317.1,2556.5 1321.7,2556.7 C1326.2,2556.9 1328.9,2557.4 1332.6,2558.2 C1336.2,2558.9 1339.9,2560.4 1343.5,2561.3 C1347.2,2562.1 1350.5,2562.8 1354.5,2563.1 C1358.4,2563.4 1362.8,2563.1 1367.2,2563.1 C1371.6,2563.1 1378.6,2563.1 1380.9,2563.1" stroke="#222222" stroke-width="6.9" fill="none" stroke-linejoin="round" />
<path d="M1443.2,2628.7 C1454.0,2628.7 1492.3,2628.7 1507.9,2628.7 C1523.6,2628.7 1530.4,2628.9 1537.1,2628.7 C1543.8,2628.6 1545.0,2628.4 1548.0,2627.8 C1551.1,2627.2 1552.9,2626.6 1555.3,2625.1 C1557.7,2623.5 1560.5,2621.9 1562.6,2618.7 C1564.7,2615.5 1566.2,2611.7 1568.1,2605.9 C1569.9,2600.2 1571.7,2593.8 1573.5,2584.1 C1575.4,2574.3 1577.5,2559.7 1579.0,2547.6 C1580.5,2535.4 1581.4,2522.7 1582.6,2511.1 C1583.9,2499.6 1584.8,2488.1 1586.3,2478.3 C1587.8,2468.6 1590.2,2458.0 1591.8,2452.8 C1593.3,2447.6 1593.9,2447.6 1595.4,2447.3 C1596.9,2447.0 1599.2,2447.0 1600.9,2451.0 C1602.5,2454.9 1603.9,2463.1 1605.4,2471.0 C1607.0,2478.9 1608.5,2489.3 1610.0,2498.4 C1611.5,2507.5 1613.0,2516.9 1614.5,2525.7 C1616.1,2534.5 1617.4,2543.0 1619.1,2551.2 C1620.8,2559.4 1622.8,2568.0 1624.6,2574.9 C1626.4,2581.9 1628.2,2588.0 1630.0,2593.2 C1631.9,2598.3 1633.4,2602.6 1635.5,2605.9 C1637.6,2609.3 1640.4,2611.5 1642.8,2613.2 C1645.2,2614.9 1647.7,2615.8 1650.1,2616.0 C1652.5,2616.1 1655.0,2615.2 1657.4,2614.1 C1659.8,2613.1 1662.2,2611.5 1664.7,2609.6 C1667.1,2607.6 1669.2,2605.0 1672.0,2602.3 C1674.7,2599.5 1678.0,2596.4 1681.1,2593.2 C1684.1,2590.0 1687.2,2586.5 1690.2,2583.1 C1693.2,2579.8 1696.3,2576.6 1699.3,2573.1 C1702.3,2569.6 1705.4,2566.0 1708.4,2562.2 C1711.5,2558.4 1714.5,2554.3 1717.5,2550.3 C1720.6,2546.4 1723.9,2542.0 1726.7,2538.5 C1729.4,2535.0 1731.5,2532.1 1733.9,2529.4 C1736.4,2526.6 1739.4,2523.6 1741.2,2522.1 C1743.1,2520.6 1743.4,2520.3 1744.9,2520.3 C1746.4,2520.3 1748.5,2521.2 1750.3,2522.1 C1752.2,2523.0 1753.7,2523.6 1755.8,2525.7 C1757.9,2527.9 1760.4,2531.2 1763.1,2534.8 C1765.8,2538.5 1768.6,2542.7 1772.2,2547.6 C1775.9,2552.5 1782.9,2561.3 1785.0,2564.0" stroke="#e9917b" stroke-width="6.4" fill="none" stroke-linejoin="round" />
<path d="M1444.1,2626.0 C1448.7,2625.7 1462.3,2625.1 1471.5,2624.2 C1480.6,2623.2 1489.7,2621.7 1498.8,2620.5 C1507.9,2619.3 1518.5,2618.1 1526.1,2616.9 C1533.7,2615.6 1539.8,2614.4 1544.4,2613.2 C1548.9,2612.0 1550.7,2611.7 1553.5,2609.6 C1556.2,2607.4 1558.3,2605.0 1560.8,2600.5 C1563.2,2595.9 1565.9,2589.5 1568.1,2582.2 C1570.2,2574.9 1571.7,2566.7 1573.5,2556.7 C1575.4,2546.7 1577.2,2533.3 1579.0,2522.1 C1580.8,2510.8 1583.0,2498.1 1584.5,2489.3 C1586.0,2480.5 1586.3,2474.2 1588.1,2469.2 C1589.9,2464.2 1593.3,2457.7 1595.4,2459.2 C1597.5,2460.7 1599.1,2470.6 1600.9,2478.3 C1602.7,2486.1 1604.5,2496.6 1606.3,2505.7 C1608.2,2514.8 1610.0,2524.2 1611.8,2533.0 C1613.6,2541.8 1615.5,2550.6 1617.3,2558.5 C1619.1,2566.4 1620.6,2573.7 1622.8,2580.4 C1624.9,2587.1 1627.6,2593.8 1630.0,2598.6 C1632.5,2603.5 1634.9,2607.1 1637.3,2609.6 C1639.8,2612.0 1642.2,2612.6 1644.6,2613.2 C1647.1,2613.8 1649.2,2613.8 1651.9,2613.2 C1654.7,2612.6 1657.7,2611.7 1661.0,2609.6 C1664.4,2607.4 1668.0,2604.1 1672.0,2600.5 C1675.9,2596.8 1680.5,2592.1 1684.7,2587.7 C1689.0,2583.3 1693.2,2578.7 1697.5,2574.0 C1701.7,2569.3 1706.0,2564.2 1710.2,2559.4 C1714.5,2554.7 1719.1,2549.7 1723.0,2545.8 C1727.0,2541.8 1730.6,2538.3 1733.9,2535.7 C1737.3,2533.2 1740.0,2530.9 1743.1,2530.3 C1746.1,2529.7 1749.1,2530.4 1752.2,2532.1 C1755.2,2533.8 1757.9,2536.8 1761.3,2540.3 C1764.6,2543.8 1768.3,2548.8 1772.2,2553.1 C1776.2,2557.3 1782.9,2563.7 1785.0,2565.8" stroke="#222222" stroke-width="6.9" fill="none" stroke-linejoin="round" />
<text x="1829.2" y="1840.4" font-size="98" font-weight="bold" textLength="69.4" lengthAdjust="spacingAndGlyphs" >G</text>
<text x="1937.2" y="1847.2" font-size="66" fill="#87888a" textLength="108.5" lengthAdjust="spacingAndGlyphs" >a-Si</text>
<text x="2430.6" y="1831.0" font-size="76" textLength="191.6" lengthAdjust="spacingAndGlyphs" >target</text>
<text x="1967.9" y="1944.4" font-size="66" font-family="'DejaVu Sans', sans-serif" textLength="26.6" lengthAdjust="spacingAndGlyphs" >⟨</text>
<text x="2001.8" y="1941.1" font-size="66" textLength="130.7" lengthAdjust="spacingAndGlyphs" >ΔED</text>
<text x="2137.7" y="1944.4" font-size="66" font-family="'DejaVu Sans', sans-serif" textLength="26.6" lengthAdjust="spacingAndGlyphs" >⟩</text>
<text x="1932.3" y="2036.0" font-size="66" textLength="31.7" lengthAdjust="spacingAndGlyphs" >0</text>
<circle cx="1995.0" cy="2012.9" r="21.0" fill="#3a4cc0" stroke="#000" stroke-width="4.4"/>
<circle cx="2027.4" cy="2012.9" r="28.6" fill="#7b9ef8" stroke="#000" stroke-width="4.4"/>
<circle cx="2057.8" cy="2012.9" r="34.6" fill="#c0d3f5" stroke="#000" stroke-width="4.4"/>
<circle cx="2087.3" cy="2012.9" r="39.4" fill="#f1cab6" stroke="#000" stroke-width="4.4"/>
<circle cx="2116.6" cy="2012.9" r="43.9" fill="#ed8467" stroke="#000" stroke-width="4.4"/>
<circle cx="2145.4" cy="2012.9" r="48.3" fill="#b30326" stroke="#000" stroke-width="4.4"/>
<text x="2129.1" y="2035.0" font-size="66" textLength="32.8" lengthAdjust="spacingAndGlyphs" class="onred">5</text>
<line x1="2295.6" y1="2145.6" x2="2758.0" y2="2145.6" stroke="#9a9a9a" stroke-width="3.9" stroke-linecap="butt" />
<line x1="2295.6" y1="2241.3" x2="2758.0" y2="2241.3" stroke="#9a9a9a" stroke-width="3.9" stroke-linecap="butt" />
<line x1="2295.6" y1="2337.0" x2="2758.0" y2="2337.0" stroke="#9a9a9a" stroke-width="3.9" stroke-linecap="butt" />
<line x1="2295.6" y1="2432.7" x2="2758.0" y2="2432.7" stroke="#9a9a9a" stroke-width="3.9" stroke-linecap="butt" />
<line x1="2295.6" y1="2528.4" x2="2758.0" y2="2528.4" stroke="#9a9a9a" stroke-width="3.9" stroke-linecap="butt" />
<line x1="2295.6" y1="2624.2" x2="2758.0" y2="2624.2" stroke="#9a9a9a" stroke-width="3.9" stroke-linecap="butt" />
<line x1="2295.6" y1="2145.6" x2="2295.6" y2="2624.2" stroke="#9a9a9a" stroke-width="3.9" stroke-linecap="butt" />
<line x1="2388.3" y1="2145.6" x2="2388.3" y2="2624.2" stroke="#9a9a9a" stroke-width="3.9" stroke-linecap="butt" />
<line x1="2480.9" y1="2145.6" x2="2480.9" y2="2624.2" stroke="#9a9a9a" stroke-width="3.9" stroke-linecap="butt" />
<line x1="2573.0" y1="2145.6" x2="2573.0" y2="2624.2" stroke="#9a9a9a" stroke-width="3.9" stroke-linecap="butt" />
<line x1="2665.7" y1="2145.6" x2="2665.7" y2="2624.2" stroke="#9a9a9a" stroke-width="3.9" stroke-linecap="butt" />
<line x1="2758.0" y1="2145.6" x2="2758.0" y2="2624.2" stroke="#9a9a9a" stroke-width="3.9" stroke-linecap="butt" />
<circle cx="2295.6" cy="2145.6" r="26.5" fill="#c6d5f1" stroke="#000" stroke-width="4.8"/>
<circle cx="2388.3" cy="2145.6" r="37.1" fill="#b30326" stroke="#000" stroke-width="4.8"/>
<circle cx="2480.9" cy="2145.6" r="37.1" fill="#b30326" stroke="#000" stroke-width="4.8"/>
<circle cx="2573.0" cy="2145.6" r="33.6" fill="#f49c7d" stroke="#000" stroke-width="4.8"/>
<circle cx="2665.7" cy="2145.6" r="37.1" fill="#b30326" stroke="#000" stroke-width="4.8"/>
<circle cx="2758.0" cy="2145.6" r="33.3" fill="#ef8c6e" stroke="#000" stroke-width="4.8"/>
<circle cx="2295.6" cy="2241.3" r="37.1" fill="#b30326" stroke="#000" stroke-width="4.8"/>
<circle cx="2388.3" cy="2241.3" r="23.4" fill="#97b7fe" stroke="#000" stroke-width="4.8"/>
<circle cx="2480.9" cy="2241.3" r="37.1" fill="#b30326" stroke="#000" stroke-width="4.8"/>
<circle cx="2573.0" cy="2241.3" r="37.1" fill="#b30326" stroke="#000" stroke-width="4.8"/>
<circle cx="2665.7" cy="2241.3" r="37.1" fill="#b30326" stroke="#000" stroke-width="4.8"/>
<circle cx="2758.0" cy="2241.3" r="37.1" fill="#b30326" stroke="#000" stroke-width="4.8"/>
<circle cx="2295.6" cy="2337.0" r="28.7" fill="#e1d9d4" stroke="#000" stroke-width="4.8"/>
<circle cx="2388.3" cy="2337.0" r="16.6" fill="#3a4cc0" stroke="#000" stroke-width="4.8"/>
<circle cx="2480.9" cy="2337.0" r="16.7" fill="#3b4ec2" stroke="#000" stroke-width="4.8"/>
<circle cx="2573.0" cy="2337.0" r="17.0" fill="#4860d1" stroke="#000" stroke-width="4.8"/>
<circle cx="2665.7" cy="2337.0" r="29.0" fill="#dddcdb" stroke="#000" stroke-width="4.8"/>
<circle cx="2758.0" cy="2337.0" r="28.7" fill="#dadbde" stroke="#000" stroke-width="4.8"/>
<circle cx="2295.6" cy="2432.7" r="37.1" fill="#b30326" stroke="#000" stroke-width="4.8"/>
<circle cx="2388.3" cy="2432.7" r="28.7" fill="#dfdbd8" stroke="#000" stroke-width="4.8"/>
<circle cx="2480.9" cy="2432.7" r="18.3" fill="#4860d1" stroke="#000" stroke-width="4.8"/>
<circle cx="2573.0" cy="2432.7" r="31.8" fill="#f6b99e" stroke="#000" stroke-width="4.8"/>
<circle cx="2665.7" cy="2432.7" r="37.1" fill="#b30326" stroke="#000" stroke-width="4.8"/>
<circle cx="2758.0" cy="2432.7" r="37.1" fill="#b30326" stroke="#000" stroke-width="4.8"/>
<circle cx="2295.6" cy="2528.4" r="37.1" fill="#b30326" stroke="#000" stroke-width="4.8"/>
<circle cx="2388.3" cy="2528.4" r="19.8" fill="#5f7ee7" stroke="#000" stroke-width="4.8"/>
<circle cx="2480.9" cy="2528.4" r="37.1" fill="#b30326" stroke="#000" stroke-width="4.8"/>
<circle cx="2573.0" cy="2528.4" r="37.1" fill="#b30326" stroke="#000" stroke-width="4.8"/>
<circle cx="2665.7" cy="2528.4" r="28.3" fill="#cfd9ea" stroke="#000" stroke-width="4.8"/>
<circle cx="2758.0" cy="2528.4" r="31.0" fill="#f2c7b2" stroke="#000" stroke-width="4.8"/>
<circle cx="2295.6" cy="2624.2" r="37.1" fill="#b30326" stroke="#000" stroke-width="4.8"/>
<circle cx="2388.3" cy="2624.2" r="21.0" fill="#698bef" stroke="#000" stroke-width="4.8"/>
<circle cx="2480.9" cy="2624.2" r="37.1" fill="#b30326" stroke="#000" stroke-width="4.8"/>
<circle cx="2573.0" cy="2624.2" r="36.6" fill="#be1f2e" stroke="#000" stroke-width="4.8"/>
<circle cx="2665.7" cy="2624.2" r="26.0" fill="#b6cef9" stroke="#000" stroke-width="4.8"/>
<circle cx="2758.0" cy="2624.2" r="27.2" fill="#c6d5f1" stroke="#000" stroke-width="4.8"/>
<text x="2090.0" y="2166.4" font-size="68" textLength="131.3" lengthAdjust="spacingAndGlyphs" >ADF</text>
<text x="2089.2" y="2262.1" font-size="68" textLength="132.1" lengthAdjust="spacingAndGlyphs" >PDF</text>
<text x="2003.7" y="2357.8" font-size="68" textLength="217.9" lengthAdjust="spacingAndGlyphs" >XANES</text>
<text x="2012.7" y="2453.5" font-size="68" textLength="209.1" lengthAdjust="spacingAndGlyphs" >EXAFS</text>
<text x="2122.9" y="2549.2" font-size="68" textLength="99.2" lengthAdjust="spacingAndGlyphs" >ND</text>
<text x="2081.8" y="2645.0" font-size="68" textLength="139.9" lengthAdjust="spacingAndGlyphs" >XRD</text>
<text transform="translate(2318.9,2095.0) rotate(-90)" font-size="68" textLength="131.3" lengthAdjust="spacingAndGlyphs" >ADF</text>
<text transform="translate(2406.5,2097.4) rotate(-90)" font-size="68" textLength="131.1" lengthAdjust="spacingAndGlyphs" >PDF</text>
<text transform="translate(2503.3,2096.6) rotate(-90)" font-size="68" textLength="215.3" lengthAdjust="spacingAndGlyphs" >XANES</text>
<text transform="translate(2596.4,2097.2) rotate(-90)" font-size="68" textLength="206.3" lengthAdjust="spacingAndGlyphs" >EXAFS</text>
<text transform="translate(2687.8,2097.7) rotate(-90)" font-size="68" textLength="99.2" lengthAdjust="spacingAndGlyphs" >ND</text>
<text transform="translate(2779.8,2096.6) rotate(-90)" font-size="68" textLength="136.0" lengthAdjust="spacingAndGlyphs" >XRD</text>
<text transform="translate(1964.2,2603.2) rotate(-90)" font-size="76" textLength="436.3" lengthAdjust="spacingAndGlyphs" >reconstructed</text>
</svg>
</body></html>
